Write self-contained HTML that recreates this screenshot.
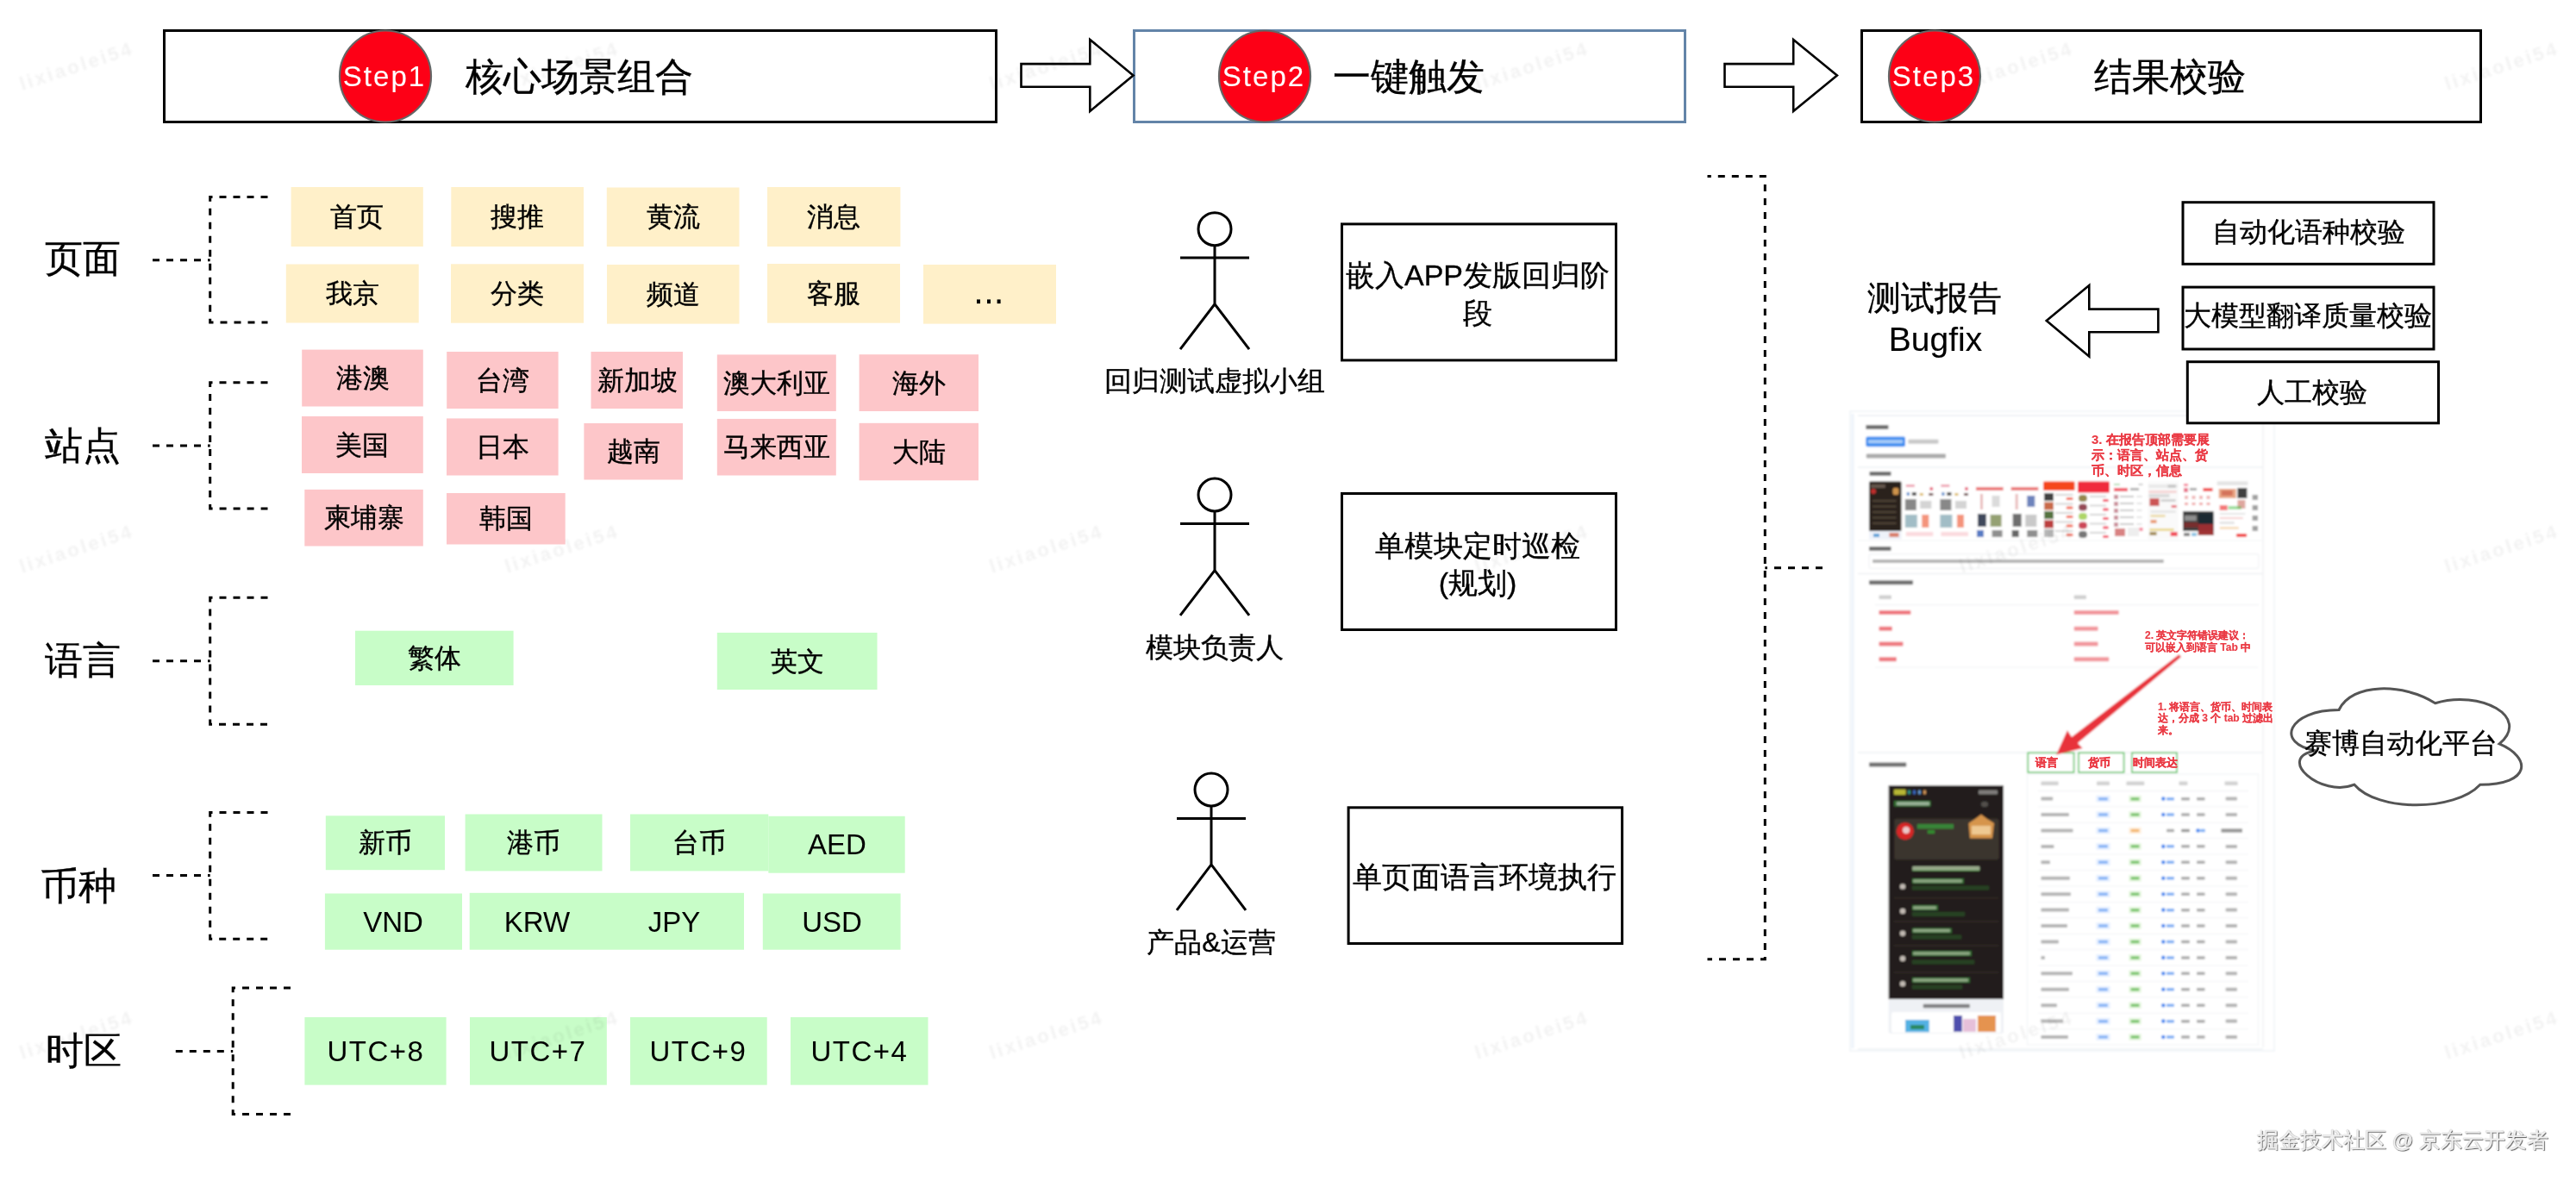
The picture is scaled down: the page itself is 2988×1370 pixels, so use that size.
<!DOCTYPE html>
<html><head><meta charset="utf-8"><style>
html,body{margin:0;padding:0;background:#fff;}
body{width:2988px;height:1370px;position:relative;overflow:hidden;font-family:"Liberation Sans",sans-serif;}
.t{position:absolute;white-space:nowrap;text-align:center;-webkit-text-stroke:0.35px currentColor;will-change:transform;}
svg{position:absolute;left:0;top:0;}
.wm{position:absolute;width:200px;height:36px;line-height:36px;text-align:center;font-size:22px;letter-spacing:3px;font-weight:bold;color:rgba(0,0,0,0.05);filter:blur(0.9px);transform:rotate(-18deg);white-space:nowrap;}
</style></head><body>
<svg width="2988" height="1370">
<rect x="190.5" y="35.5" width="965.0" height="106.0" fill="#fff" stroke="#000" stroke-width="3" />
<rect x="1315.5" y="35.5" width="639.0" height="106.0" fill="#fff" stroke="#6384a8" stroke-width="3" />
<rect x="2159.5" y="35.5" width="718.0" height="106.0" fill="#fff" stroke="#000" stroke-width="3" />
<polygon points="1184.5,74.1 1264.3,74.1 1264.3,45.9 1314.5,87.4 1264.3,129.0 1264.3,100.8 1184.5,100.8" fill="#fff" stroke="#000" stroke-width="2.6" stroke-linejoin="miter"/>
<polygon points="2000.5,74.1 2080.2,74.1 2080.2,45.9 2130.9,87.4 2080.2,129.0 2080.2,100.8 2000.5,100.8" fill="#fff" stroke="#000" stroke-width="2.6" stroke-linejoin="miter"/>
<circle cx="447" cy="88.5" r="53" fill="#fd0016" stroke="#666" stroke-width="2.2"/>
<circle cx="1467" cy="88.5" r="53" fill="#fd0016" stroke="#666" stroke-width="2.2"/>
<circle cx="2244" cy="88.5" r="53" fill="#fd0016" stroke="#666" stroke-width="2.2"/>
<path d="M177,301.7 L243.7,301.7" stroke="#000" stroke-width="3" stroke-dasharray="8 8" fill="none"/>
<path d="M310.5,228.6 L243.7,228.6 L243.7,374 L310.5,374" stroke="#000" stroke-width="3" stroke-dasharray="8 8" fill="none"/>
<path d="M177,517 L243.7,517" stroke="#000" stroke-width="3" stroke-dasharray="8 8" fill="none"/>
<path d="M310.5,443.7 L243.7,443.7 L243.7,590 L310.5,590" stroke="#000" stroke-width="3" stroke-dasharray="8 8" fill="none"/>
<path d="M177,766.8 L243.7,766.8" stroke="#000" stroke-width="3" stroke-dasharray="8 8" fill="none"/>
<path d="M310.5,693.3 L243.7,693.3 L243.7,840.2 L310.5,840.2" stroke="#000" stroke-width="3" stroke-dasharray="8 8" fill="none"/>
<path d="M177,1015.5 L243.7,1015.5" stroke="#000" stroke-width="3" stroke-dasharray="8 8" fill="none"/>
<path d="M310.5,942.6 L243.7,942.6 L243.7,1089.3 L310.5,1089.3" stroke="#000" stroke-width="3" stroke-dasharray="8 8" fill="none"/>
<path d="M203.8,1219.5 L270.2,1219.5" stroke="#000" stroke-width="3" stroke-dasharray="8 8" fill="none"/>
<path d="M337,1146 L270.2,1146 L270.2,1292.4 L337,1292.4" stroke="#000" stroke-width="3" stroke-dasharray="8 8" fill="none"/>
<rect x="337.6" y="217.0" width="153.2" height="69.0" fill="#fff0c9" stroke="none" stroke-width="0" />
<rect x="523.3" y="217.0" width="153.7" height="69.0" fill="#fff0c9" stroke="none" stroke-width="0" />
<rect x="703.8" y="217.5" width="153.7" height="68.5" fill="#fff0c9" stroke="none" stroke-width="0" />
<rect x="890.0" y="217.0" width="154.4" height="69.0" fill="#fff0c9" stroke="none" stroke-width="0" />
<rect x="331.8" y="306.5" width="153.9" height="68.0" fill="#fff0c9" stroke="none" stroke-width="0" />
<rect x="523.0" y="306.3" width="154.0" height="68.4" fill="#fff0c9" stroke="none" stroke-width="0" />
<rect x="704.0" y="307.0" width="153.5" height="68.6" fill="#fff0c9" stroke="none" stroke-width="0" />
<rect x="890.0" y="306.0" width="154.0" height="68.7" fill="#fff0c9" stroke="none" stroke-width="0" />
<rect x="1071.0" y="307.0" width="154.0" height="68.6" fill="#fff0c9" stroke="none" stroke-width="0" />
<rect x="1133" y="347.4" width="4" height="4.7" fill="#000"/>
<rect x="1145" y="347.4" width="4" height="4.7" fill="#000"/>
<rect x="1156.6" y="347.4" width="4" height="4.7" fill="#000"/>
<rect x="350.2" y="405.6" width="140.6" height="65.9" fill="#fdc6c9" stroke="none" stroke-width="0" />
<rect x="350.0" y="482.9" width="140.8" height="66.1" fill="#fdc6c9" stroke="none" stroke-width="0" />
<rect x="353.3" y="567.9" width="137.5" height="65.6" fill="#fdc6c9" stroke="none" stroke-width="0" />
<rect x="518.2" y="408.0" width="129.4" height="66.0" fill="#fdc6c9" stroke="none" stroke-width="0" />
<rect x="518.0" y="485.4" width="129.6" height="66.1" fill="#fdc6c9" stroke="none" stroke-width="0" />
<rect x="518.0" y="572.0" width="137.7" height="59.5" fill="#fdc6c9" stroke="none" stroke-width="0" />
<rect x="685.5" y="408.0" width="106.5" height="66.0" fill="#fdc6c9" stroke="none" stroke-width="0" />
<rect x="677.4" y="491.0" width="114.6" height="65.5" fill="#fdc6c9" stroke="none" stroke-width="0" />
<rect x="831.8" y="411.4" width="138.0" height="65.6" fill="#fdc6c9" stroke="none" stroke-width="0" />
<rect x="831.8" y="485.9" width="138.0" height="65.6" fill="#fdc6c9" stroke="none" stroke-width="0" />
<rect x="996.6" y="411.2" width="138.4" height="65.8" fill="#fdc6c9" stroke="none" stroke-width="0" />
<rect x="996.6" y="490.8" width="138.4" height="66.5" fill="#fdc6c9" stroke="none" stroke-width="0" />
<rect x="412.0" y="731.7" width="183.6" height="63.3" fill="#c8fdc8" stroke="none" stroke-width="0" />
<rect x="831.8" y="733.9" width="185.7" height="66.1" fill="#c8fdc8" stroke="none" stroke-width="0" />
<rect x="377.8" y="946.3" width="138.2" height="62.9" fill="#c8fdc8" stroke="none" stroke-width="0" />
<rect x="539.6" y="944.5" width="158.9" height="65.9" fill="#c8fdc8" stroke="none" stroke-width="0" />
<rect x="731.0" y="944.5" width="160.3" height="65.9" fill="#c8fdc8" stroke="none" stroke-width="0" />
<rect x="891.3" y="946.8" width="158.4" height="65.9" fill="#c8fdc8" stroke="none" stroke-width="0" />
<rect x="376.9" y="1036.5" width="159.1" height="65.2" fill="#c8fdc8" stroke="none" stroke-width="0" />
<rect x="544.7" y="1035.8" width="318.3" height="65.9" fill="#c8fdc8" stroke="none" stroke-width="0" />
<rect x="884.8" y="1036.5" width="159.8" height="65.2" fill="#c8fdc8" stroke="none" stroke-width="0" />
<rect x="353.4" y="1180.0" width="164.2" height="78.6" fill="#c8fdc8" stroke="none" stroke-width="0" />
<rect x="545.0" y="1180.0" width="158.8" height="78.6" fill="#c8fdc8" stroke="none" stroke-width="0" />
<rect x="731.0" y="1180.0" width="158.7" height="78.6" fill="#c8fdc8" stroke="none" stroke-width="0" />
<rect x="917.0" y="1180.0" width="159.5" height="78.6" fill="#c8fdc8" stroke="none" stroke-width="0" />
<circle cx="1409" cy="265.7" r="19" fill="#fff" stroke="#000" stroke-width="3"/>
<path d="M1409,284.7 L1409,352.8 M1369,299 L1449,299 M1369,405.2 L1409,352.8 L1449,405.2" stroke="#000" stroke-width="3" fill="none"/>
<circle cx="1409" cy="574.0" r="19" fill="#fff" stroke="#000" stroke-width="3"/>
<path d="M1409,593.0 L1409,661.6 M1369,607.5 L1449,607.5 M1369,713.8 L1409,661.6 L1449,713.8" stroke="#000" stroke-width="3" fill="none"/>
<circle cx="1405" cy="916.0" r="19" fill="#fff" stroke="#000" stroke-width="3"/>
<path d="M1405,935.0 L1405,1002.9 M1365,949.4 L1445,949.4 M1365,1055.8 L1405,1002.9 L1445,1055.8" stroke="#000" stroke-width="3" fill="none"/>
<rect x="1556.5" y="259.9" width="318.0" height="158.0" fill="#fff" stroke="#000" stroke-width="3" />
<rect x="1556.5" y="572.5" width="318.0" height="158.0" fill="#fff" stroke="#000" stroke-width="3" />
<rect x="1564.1" y="936.8" width="317.5" height="157.7" fill="#fff" stroke="#000" stroke-width="3" />
<path d="M1980.5,1112.8 L2047.3,1112.8 L2047.3,204.6 L1980.5,204.6" stroke="#000" stroke-width="3" stroke-dasharray="8 8" stroke-dashoffset="2.5" fill="none"/>
<path d="M2114,658.7 L2047.3,658.7" stroke="#000" stroke-width="3" stroke-dasharray="8 8" fill="none"/>
<defs><filter id="bl" x="-5%" y="-5%" width="110%" height="110%"><feGaussianBlur stdDeviation="0.9"/></filter></defs>
<g filter="url(#bl)">
<rect x="2146.0" y="477.0" width="492.0" height="742.0" fill="#ffffff" fill-opacity="1" rx="0" stroke="#f3f6f9" stroke-width="2"/>
<path d="M2149,480 L2149,1216" stroke="#edf3fa" stroke-width="3" fill="none"/>
<path d="M2155,482 L2625,482" stroke="#f0f2f5" stroke-width="2" fill="none"/>
<path d="M2155,542 L2625,542" stroke="#eef0f3" stroke-width="1.5" fill="none"/>
<path d="M2155,665.6 L2625,665.6" stroke="#eef0f3" stroke-width="1.5" fill="none"/>
<path d="M2155,873 L2625,873" stroke="#eef0f3" stroke-width="1.5" fill="none"/>
<path d="M2625,482 L2625,1215" stroke="#f0f2f5" stroke-width="1.5" fill="none"/>
<path d="M2155,1217 L2625,1217" stroke="#eef0f3" stroke-width="1.5" fill="none"/>
<rect x="2164.3" y="493.1" width="26.2" height="5.0" fill="#222" fill-opacity="0.65" rx="1" stroke="none" stroke-width="0"/>
<rect x="2164.3" y="506.4" width="45.7" height="11.9" fill="#3d8ef0" fill-opacity="1" rx="2" stroke="none" stroke-width="0"/>
<rect x="2167.0" y="510.3" width="40.0" height="4.0" fill="#ffffff" fill-opacity="0.55" rx="1" stroke="none" stroke-width="0"/>
<rect x="2213.4" y="509.8" width="35.1" height="5.0" fill="#888" fill-opacity="0.45" rx="1" stroke="none" stroke-width="0"/>
<rect x="2164.7" y="526.5" width="92.3" height="5.0" fill="#555" fill-opacity="0.5" rx="1" stroke="none" stroke-width="0"/>
<rect x="2168.5" y="546.9" width="25.0" height="5.0" fill="#222" fill-opacity="0.65" rx="1" stroke="none" stroke-width="0"/>
<rect x="2168.0" y="558.4" width="37.5" height="57.6" fill="#2a241f" fill-opacity="1" rx="1.5" stroke="none" stroke-width="0"/>
<rect x="2168.0" y="616.0" width="37.5" height="9.5" fill="#eef2fa" fill-opacity="1" rx="0" stroke="none" stroke-width="0"/>
<rect x="2170.0" y="562.0" width="16.8" height="4.0" fill="#8a7a6a" fill-opacity="0.6" rx="0" stroke="none" stroke-width="0"/>
<rect x="2170.0" y="567.0" width="6.0" height="6.0" fill="#d03030" fill-opacity="0.9" rx="3" stroke="none" stroke-width="0"/>
<rect x="2195.5" y="566.0" width="7.0" height="8.0" fill="#e0a050" fill-opacity="0.9" rx="2" stroke="none" stroke-width="0"/>
<rect x="2172.0" y="580.0" width="27.5" height="2.0" fill="#6a5a4a" fill-opacity="0.6" rx="0" stroke="none" stroke-width="0"/>
<rect x="2172.0" y="586.5" width="27.5" height="2.0" fill="#6a5a4a" fill-opacity="0.6" rx="0" stroke="none" stroke-width="0"/>
<rect x="2172.0" y="593.0" width="27.5" height="2.0" fill="#6a5a4a" fill-opacity="0.6" rx="0" stroke="none" stroke-width="0"/>
<rect x="2172.0" y="599.5" width="27.5" height="2.0" fill="#6a5a4a" fill-opacity="0.6" rx="0" stroke="none" stroke-width="0"/>
<rect x="2172.0" y="606.0" width="27.5" height="2.0" fill="#6a5a4a" fill-opacity="0.6" rx="0" stroke="none" stroke-width="0"/>
<rect x="2173.0" y="619.0" width="7.0" height="4.0" fill="#3a8ed0" fill-opacity="0.8" rx="0" stroke="none" stroke-width="0"/>
<rect x="2191.5" y="618.0" width="11.0" height="5.0" fill="#d05030" fill-opacity="0.7" rx="0" stroke="none" stroke-width="0"/>
<rect x="2208.8" y="558.4" width="35.5" height="67.1" fill="#ffffff" fill-opacity="1" rx="0" stroke="none" stroke-width="0"/>
<rect x="2210.8" y="562.0" width="10.0" height="3.0" fill="#e05070" fill-opacity="0.5" rx="0" stroke="none" stroke-width="0"/>
<rect x="2238.3" y="565.0" width="4.0" height="4.0" fill="#e03050" fill-opacity="0.8" rx="2" stroke="none" stroke-width="0"/>
<rect x="2211.8" y="571.0" width="3.0" height="4.0" fill="#3070c0" fill-opacity="0.8" rx="0" stroke="none" stroke-width="0"/>
<rect x="2217.8" y="571.0" width="5.0" height="4.0" fill="#222" fill-opacity="0.8" rx="0" stroke="none" stroke-width="0"/>
<rect x="2226.8" y="572.0" width="4.0" height="3.0" fill="#d0a020" fill-opacity="0.7" rx="0" stroke="none" stroke-width="0"/>
<rect x="2237.3" y="572.0" width="5.0" height="3.0" fill="#502020" fill-opacity="0.8" rx="0" stroke="none" stroke-width="0"/>
<rect x="2209.8" y="579.0" width="13.0" height="13.0" fill="#555" fill-opacity="0.7" rx="0" stroke="none" stroke-width="0"/>
<rect x="2227.3" y="581.0" width="13.0" height="9.0" fill="#aaa" fill-opacity="0.5" rx="0" stroke="none" stroke-width="0"/>
<rect x="2209.8" y="597.0" width="14.0" height="15.0" fill="#8aacb8" fill-opacity="0.8" rx="0" stroke="none" stroke-width="0"/>
<rect x="2229.3" y="597.0" width="8.0" height="15.0" fill="#f07050" fill-opacity="0.75" rx="0" stroke="none" stroke-width="0"/>
<rect x="2210.8" y="617.0" width="31.5" height="5.0" fill="#f07080" fill-opacity="0.25" rx="0" stroke="none" stroke-width="0"/>
<rect x="2249.4" y="558.4" width="35.6" height="67.1" fill="#ffffff" fill-opacity="1" rx="0" stroke="none" stroke-width="0"/>
<rect x="2251.4" y="562.0" width="10.0" height="3.0" fill="#e05070" fill-opacity="0.5" rx="0" stroke="none" stroke-width="0"/>
<rect x="2279.0" y="565.0" width="4.0" height="4.0" fill="#e03050" fill-opacity="0.8" rx="2" stroke="none" stroke-width="0"/>
<rect x="2252.4" y="571.0" width="3.0" height="4.0" fill="#3070c0" fill-opacity="0.8" rx="0" stroke="none" stroke-width="0"/>
<rect x="2258.4" y="571.0" width="5.0" height="4.0" fill="#222" fill-opacity="0.8" rx="0" stroke="none" stroke-width="0"/>
<rect x="2267.4" y="572.0" width="4.0" height="3.0" fill="#d0a020" fill-opacity="0.7" rx="0" stroke="none" stroke-width="0"/>
<rect x="2278.0" y="572.0" width="5.0" height="3.0" fill="#502020" fill-opacity="0.8" rx="0" stroke="none" stroke-width="0"/>
<rect x="2250.4" y="579.0" width="13.0" height="13.0" fill="#555" fill-opacity="0.7" rx="0" stroke="none" stroke-width="0"/>
<rect x="2268.0" y="581.0" width="13.0" height="9.0" fill="#aaa" fill-opacity="0.5" rx="0" stroke="none" stroke-width="0"/>
<rect x="2250.4" y="597.0" width="14.0" height="15.0" fill="#8aacb8" fill-opacity="0.8" rx="0" stroke="none" stroke-width="0"/>
<rect x="2270.0" y="597.0" width="8.0" height="15.0" fill="#f07050" fill-opacity="0.75" rx="0" stroke="none" stroke-width="0"/>
<rect x="2251.4" y="617.0" width="31.6" height="5.0" fill="#f07080" fill-opacity="0.25" rx="0" stroke="none" stroke-width="0"/>
<rect x="2290.0" y="558.4" width="35.6" height="67.1" fill="#ffffff" fill-opacity="1" rx="0" stroke="none" stroke-width="0"/>
<rect x="2292.0" y="565.0" width="31.6" height="4.0" fill="#e03030" fill-opacity="0.65" rx="0" stroke="none" stroke-width="0"/>
<rect x="2297.0" y="573.0" width="3.0" height="18.0" fill="#e0a0a0" fill-opacity="0.7" rx="0" stroke="none" stroke-width="0"/>
<rect x="2310.6" y="575.0" width="9.0" height="13.0" fill="#cccccc" fill-opacity="0.7" rx="0" stroke="none" stroke-width="0"/>
<rect x="2294.0" y="596.0" width="10.0" height="15.0" fill="#1e2a40" fill-opacity="0.85" rx="0" stroke="none" stroke-width="0"/>
<rect x="2308.6" y="597.0" width="13.0" height="14.0" fill="#7a8a50" fill-opacity="0.8" rx="0" stroke="none" stroke-width="0"/>
<rect x="2293.0" y="615.0" width="8.0" height="8.0" fill="#2050b0" fill-opacity="0.75" rx="0" stroke="none" stroke-width="0"/>
<rect x="2310.6" y="615.0" width="12.0" height="8.0" fill="#444" fill-opacity="0.6" rx="0" stroke="none" stroke-width="0"/>
<rect x="2330.7" y="558.4" width="35.6" height="67.1" fill="#ffffff" fill-opacity="1" rx="0" stroke="none" stroke-width="0"/>
<rect x="2332.7" y="565.0" width="31.6" height="4.0" fill="#e03030" fill-opacity="0.65" rx="0" stroke="none" stroke-width="0"/>
<rect x="2337.7" y="573.0" width="3.0" height="18.0" fill="#e0a0a0" fill-opacity="0.7" rx="0" stroke="none" stroke-width="0"/>
<rect x="2351.3" y="575.0" width="9.0" height="13.0" fill="#3050a0" fill-opacity="0.7" rx="0" stroke="none" stroke-width="0"/>
<rect x="2334.7" y="596.0" width="10.0" height="15.0" fill="#555" fill-opacity="0.85" rx="0" stroke="none" stroke-width="0"/>
<rect x="2349.3" y="597.0" width="13.0" height="14.0" fill="#bbb" fill-opacity="0.8" rx="0" stroke="none" stroke-width="0"/>
<rect x="2333.7" y="615.0" width="8.0" height="8.0" fill="#333" fill-opacity="0.75" rx="0" stroke="none" stroke-width="0"/>
<rect x="2351.3" y="615.0" width="12.0" height="8.0" fill="#444" fill-opacity="0.6" rx="0" stroke="none" stroke-width="0"/>
<rect x="2370.0" y="558.4" width="36.6" height="67.1" fill="#ffffff" fill-opacity="1" rx="0" stroke="none" stroke-width="0"/>
<rect x="2370.0" y="558.4" width="36.6" height="10.5" fill="#f5461c" fill-opacity="1" rx="1.5" stroke="none" stroke-width="0"/>
<rect x="2371.0" y="572.0" width="11.0" height="9.0" fill="#222" fill-opacity="0.85" rx="0" stroke="none" stroke-width="0"/>
<rect x="2384.0" y="573.0" width="20.6" height="2.0" fill="#999" fill-opacity="0.4" rx="0" stroke="none" stroke-width="0"/>
<rect x="2396.6" y="577.0" width="8.0" height="3.0" fill="#f04020" fill-opacity="0.8" rx="1.5" stroke="none" stroke-width="0"/>
<rect x="2371.0" y="582.5" width="11.0" height="9.0" fill="#c05028" fill-opacity="0.85" rx="0" stroke="none" stroke-width="0"/>
<rect x="2384.0" y="583.5" width="20.6" height="2.0" fill="#999" fill-opacity="0.4" rx="0" stroke="none" stroke-width="0"/>
<rect x="2396.6" y="587.5" width="8.0" height="3.0" fill="#f04020" fill-opacity="0.8" rx="1.5" stroke="none" stroke-width="0"/>
<rect x="2371.0" y="593.0" width="11.0" height="9.0" fill="#3a5a20" fill-opacity="0.85" rx="0" stroke="none" stroke-width="0"/>
<rect x="2384.0" y="594.0" width="20.6" height="2.0" fill="#999" fill-opacity="0.4" rx="0" stroke="none" stroke-width="0"/>
<rect x="2396.6" y="598.0" width="8.0" height="3.0" fill="#f04020" fill-opacity="0.8" rx="1.5" stroke="none" stroke-width="0"/>
<rect x="2371.0" y="603.5" width="11.0" height="9.0" fill="#b02020" fill-opacity="0.85" rx="0" stroke="none" stroke-width="0"/>
<rect x="2384.0" y="604.5" width="20.6" height="2.0" fill="#999" fill-opacity="0.4" rx="0" stroke="none" stroke-width="0"/>
<rect x="2396.6" y="608.5" width="8.0" height="3.0" fill="#f04020" fill-opacity="0.8" rx="1.5" stroke="none" stroke-width="0"/>
<rect x="2371.0" y="614.0" width="11.0" height="9.0" fill="#aaa" fill-opacity="0.85" rx="0" stroke="none" stroke-width="0"/>
<rect x="2384.0" y="615.0" width="20.6" height="2.0" fill="#999" fill-opacity="0.4" rx="0" stroke="none" stroke-width="0"/>
<rect x="2396.6" y="619.0" width="8.0" height="3.0" fill="#f04020" fill-opacity="0.8" rx="1.5" stroke="none" stroke-width="0"/>
<rect x="2410.0" y="558.4" width="37.0" height="67.1" fill="#ffffff" fill-opacity="1" rx="0" stroke="none" stroke-width="0"/>
<rect x="2410.0" y="558.4" width="37.0" height="13.1" fill="#f02a3c" fill-opacity="1" rx="1.5" stroke="none" stroke-width="0"/>
<rect x="2411.0" y="574.0" width="10.0" height="8.0" fill="#7a6a20" fill-opacity="0.8" rx="4" stroke="none" stroke-width="0"/>
<rect x="2424.0" y="575.0" width="19.0" height="2.0" fill="#999" fill-opacity="0.4" rx="0" stroke="none" stroke-width="0"/>
<rect x="2439.0" y="579.0" width="7.0" height="3.0" fill="#f02040" fill-opacity="0.8" rx="1.5" stroke="none" stroke-width="0"/>
<rect x="2411.0" y="584.5" width="10.0" height="8.0" fill="#7a1a2a" fill-opacity="0.8" rx="4" stroke="none" stroke-width="0"/>
<rect x="2424.0" y="585.5" width="19.0" height="2.0" fill="#999" fill-opacity="0.4" rx="0" stroke="none" stroke-width="0"/>
<rect x="2439.0" y="589.5" width="7.0" height="3.0" fill="#f02040" fill-opacity="0.8" rx="1.5" stroke="none" stroke-width="0"/>
<rect x="2411.0" y="595.0" width="10.0" height="8.0" fill="#9acc40" fill-opacity="0.8" rx="4" stroke="none" stroke-width="0"/>
<rect x="2424.0" y="596.0" width="19.0" height="2.0" fill="#999" fill-opacity="0.4" rx="0" stroke="none" stroke-width="0"/>
<rect x="2439.0" y="600.0" width="7.0" height="3.0" fill="#f02040" fill-opacity="0.8" rx="1.5" stroke="none" stroke-width="0"/>
<rect x="2411.0" y="605.5" width="10.0" height="8.0" fill="#c01830" fill-opacity="0.8" rx="4" stroke="none" stroke-width="0"/>
<rect x="2424.0" y="606.5" width="19.0" height="2.0" fill="#999" fill-opacity="0.4" rx="0" stroke="none" stroke-width="0"/>
<rect x="2439.0" y="610.5" width="7.0" height="3.0" fill="#f02040" fill-opacity="0.8" rx="1.5" stroke="none" stroke-width="0"/>
<rect x="2411.0" y="616.0" width="10.0" height="8.0" fill="#555" fill-opacity="0.8" rx="4" stroke="none" stroke-width="0"/>
<rect x="2424.0" y="617.0" width="19.0" height="2.0" fill="#999" fill-opacity="0.4" rx="0" stroke="none" stroke-width="0"/>
<rect x="2439.0" y="621.0" width="7.0" height="3.0" fill="#f02040" fill-opacity="0.8" rx="1.5" stroke="none" stroke-width="0"/>
<rect x="2451.0" y="558.4" width="35.5" height="67.1" fill="#ffffff" fill-opacity="1" rx="0" stroke="none" stroke-width="0"/>
<rect x="2452.0" y="561.0" width="7.0" height="2.0" fill="#4a4" fill-opacity="0.4" rx="0" stroke="none" stroke-width="0"/>
<rect x="2480.5" y="561.0" width="5.0" height="2.0" fill="#888" fill-opacity="0.4" rx="0" stroke="none" stroke-width="0"/>
<rect x="2452.0" y="566.0" width="16.0" height="4.0" fill="#f04050" fill-opacity="0.85" rx="0" stroke="none" stroke-width="0"/>
<rect x="2471.0" y="566.0" width="10.0" height="3.0" fill="#444" fill-opacity="0.4" rx="0" stroke="none" stroke-width="0"/>
<rect x="2452.0" y="574.0" width="5.0" height="5.0" fill="#b05868" fill-opacity="0.65" rx="0" stroke="none" stroke-width="0"/>
<rect x="2459.0" y="575.0" width="16.0" height="2.0" fill="#777" fill-opacity="0.4" rx="0" stroke="none" stroke-width="0"/>
<rect x="2478.5" y="575.0" width="6.0" height="2.0" fill="#bbb" fill-opacity="0.4" rx="0" stroke="none" stroke-width="0"/>
<rect x="2452.0" y="582.0" width="5.0" height="5.0" fill="#b05868" fill-opacity="0.65" rx="0" stroke="none" stroke-width="0"/>
<rect x="2459.0" y="583.0" width="16.0" height="2.0" fill="#777" fill-opacity="0.4" rx="0" stroke="none" stroke-width="0"/>
<rect x="2478.5" y="583.0" width="6.0" height="2.0" fill="#bbb" fill-opacity="0.4" rx="0" stroke="none" stroke-width="0"/>
<rect x="2452.0" y="590.0" width="5.0" height="5.0" fill="#b05868" fill-opacity="0.65" rx="0" stroke="none" stroke-width="0"/>
<rect x="2459.0" y="591.0" width="16.0" height="2.0" fill="#777" fill-opacity="0.4" rx="0" stroke="none" stroke-width="0"/>
<rect x="2478.5" y="591.0" width="6.0" height="2.0" fill="#bbb" fill-opacity="0.4" rx="0" stroke="none" stroke-width="0"/>
<rect x="2452.0" y="598.0" width="5.0" height="5.0" fill="#b05868" fill-opacity="0.65" rx="0" stroke="none" stroke-width="0"/>
<rect x="2459.0" y="599.0" width="16.0" height="2.0" fill="#777" fill-opacity="0.4" rx="0" stroke="none" stroke-width="0"/>
<rect x="2478.5" y="599.0" width="6.0" height="2.0" fill="#bbb" fill-opacity="0.4" rx="0" stroke="none" stroke-width="0"/>
<rect x="2452.0" y="606.0" width="5.0" height="5.0" fill="#b05868" fill-opacity="0.65" rx="0" stroke="none" stroke-width="0"/>
<rect x="2459.0" y="607.0" width="16.0" height="2.0" fill="#777" fill-opacity="0.4" rx="0" stroke="none" stroke-width="0"/>
<rect x="2478.5" y="607.0" width="6.0" height="2.0" fill="#bbb" fill-opacity="0.4" rx="0" stroke="none" stroke-width="0"/>
<rect x="2453.0" y="613.0" width="12.0" height="9.0" fill="#c03030" fill-opacity="0.6" rx="0" stroke="none" stroke-width="0"/>
<rect x="2468.0" y="612.0" width="13.0" height="10.0" fill="#ddd" fill-opacity="0.5" rx="0" stroke="none" stroke-width="0"/>
<rect x="2481.5" y="612.0" width="4.0" height="4.0" fill="#f04060" fill-opacity="0.6" rx="0" stroke="none" stroke-width="0"/>
<rect x="2491.5" y="558.4" width="35.2" height="67.1" fill="#fafafa" fill-opacity="1" rx="0" stroke="none" stroke-width="0"/>
<rect x="2492.5" y="562.0" width="33.2" height="4.0" fill="#ddd" fill-opacity="0.6" rx="0" stroke="none" stroke-width="0"/>
<rect x="2514.7" y="562.0" width="9.0" height="4.0" fill="#aaa" fill-opacity="0.5" rx="0" stroke="none" stroke-width="0"/>
<rect x="2492.5" y="569.0" width="32.2" height="3.0" fill="#f2b0b0" fill-opacity="0.5" rx="0" stroke="none" stroke-width="0"/>
<rect x="2492.5" y="573.0" width="24.0" height="4.0" fill="#bbb" fill-opacity="0.5" rx="0" stroke="none" stroke-width="0"/>
<rect x="2493.5" y="578.0" width="11.0" height="9.0" fill="#c02a2a" fill-opacity="0.8" rx="0" stroke="none" stroke-width="0"/>
<rect x="2506.5" y="579.0" width="17.2" height="3.0" fill="#aaa" fill-opacity="0.5" rx="0" stroke="none" stroke-width="0"/>
<rect x="2518.7" y="586.0" width="6.0" height="3.0" fill="#e03040" fill-opacity="0.7" rx="0" stroke="none" stroke-width="0"/>
<rect x="2494.5" y="592.0" width="29.2" height="3.0" fill="#ccc" fill-opacity="0.4" rx="0" stroke="none" stroke-width="0"/>
<rect x="2494.5" y="597.0" width="17.0" height="3.0" fill="#e0c060" fill-opacity="0.5" rx="0" stroke="none" stroke-width="0"/>
<rect x="2494.5" y="603.0" width="7.0" height="4.0" fill="#e06020" fill-opacity="0.6" rx="0" stroke="none" stroke-width="0"/>
<rect x="2493.5" y="613.0" width="28.0" height="3.0" fill="#e0c040" fill-opacity="0.55" rx="0" stroke="none" stroke-width="0"/>
<rect x="2493.5" y="617.0" width="8.0" height="4.0" fill="#806010" fill-opacity="0.7" rx="0" stroke="none" stroke-width="0"/>
<rect x="2517.7" y="617.0" width="8.0" height="5.0" fill="#f03040" fill-opacity="0.85" rx="0" stroke="none" stroke-width="0"/>
<rect x="2532.0" y="558.4" width="35.5" height="67.1" fill="#ffffff" fill-opacity="1" rx="0" stroke="none" stroke-width="0"/>
<rect x="2533.0" y="561.0" width="5.0" height="3.0" fill="#f04060" fill-opacity="0.6" rx="0" stroke="none" stroke-width="0"/>
<rect x="2555.5" y="566.0" width="11.0" height="4.0" fill="#f03030" fill-opacity="0.85" rx="0" stroke="none" stroke-width="0"/>
<rect x="2533.0" y="566.0" width="5.0" height="5.0" fill="#e04060" fill-opacity="0.7" rx="0" stroke="none" stroke-width="0"/>
<rect x="2540.0" y="566.0" width="8.0" height="3.0" fill="#555" fill-opacity="0.5" rx="0" stroke="none" stroke-width="0"/>
<rect x="2534.0" y="575.0" width="4.0" height="4.0" fill="#e07070" fill-opacity="0.5" rx="0" stroke="none" stroke-width="0"/>
<rect x="2534.0" y="583.0" width="4.0" height="3.0" fill="#e04040" fill-opacity="0.45" rx="0" stroke="none" stroke-width="0"/>
<rect x="2542.5" y="575.0" width="4.0" height="4.0" fill="#e07070" fill-opacity="0.5" rx="0" stroke="none" stroke-width="0"/>
<rect x="2542.5" y="583.0" width="4.0" height="3.0" fill="#e04040" fill-opacity="0.45" rx="0" stroke="none" stroke-width="0"/>
<rect x="2551.0" y="575.0" width="4.0" height="4.0" fill="#e07070" fill-opacity="0.5" rx="0" stroke="none" stroke-width="0"/>
<rect x="2551.0" y="583.0" width="4.0" height="3.0" fill="#e04040" fill-opacity="0.45" rx="0" stroke="none" stroke-width="0"/>
<rect x="2559.5" y="575.0" width="4.0" height="4.0" fill="#e07070" fill-opacity="0.5" rx="0" stroke="none" stroke-width="0"/>
<rect x="2559.5" y="583.0" width="4.0" height="3.0" fill="#e04040" fill-opacity="0.45" rx="0" stroke="none" stroke-width="0"/>
<rect x="2532.0" y="593.0" width="35.5" height="23.0" fill="#2a2a2a" fill-opacity="0.9" rx="0" stroke="none" stroke-width="0"/>
<rect x="2549.8" y="595.0" width="17.8" height="26.0" fill="#1a2830" fill-opacity="0.9" rx="0" stroke="none" stroke-width="0"/>
<rect x="2534.0" y="598.0" width="13.8" height="6.0" fill="#ddd" fill-opacity="0.5" rx="0" stroke="none" stroke-width="0"/>
<rect x="2549.8" y="608.0" width="17.8" height="13.0" fill="#d03030" fill-opacity="0.7" rx="0" stroke="none" stroke-width="0"/>
<rect x="2533.0" y="606.0" width="16.8" height="6.0" fill="#b02020" fill-opacity="0.5" rx="0" stroke="none" stroke-width="0"/>
<rect x="2533.0" y="618.0" width="7.0" height="4.0" fill="#333" fill-opacity="0.6" rx="0" stroke="none" stroke-width="0"/>
<rect x="2542.0" y="618.0" width="6.0" height="4.0" fill="#40a0d0" fill-opacity="0.6" rx="0" stroke="none" stroke-width="0"/>
<rect x="2571.7" y="558.4" width="35.7" height="67.1" fill="#ffffff" fill-opacity="1" rx="0" stroke="none" stroke-width="0"/>
<rect x="2571.7" y="558.4" width="35.7" height="4.6" fill="#ddd" fill-opacity="0.8" rx="0" stroke="none" stroke-width="0"/>
<rect x="2595.4" y="566.0" width="11.0" height="12.0" fill="#2a2a2a" fill-opacity="0.9" rx="0" stroke="none" stroke-width="0"/>
<rect x="2573.7" y="567.0" width="20.0" height="11.0" fill="#e08050" fill-opacity="0.7" rx="0" stroke="none" stroke-width="0"/>
<rect x="2576.7" y="569.0" width="13.0" height="6.0" fill="#c04030" fill-opacity="0.5" rx="0" stroke="none" stroke-width="0"/>
<rect x="2595.4" y="580.0" width="9.0" height="10.0" fill="#c05040" fill-opacity="0.5" rx="0" stroke="none" stroke-width="0"/>
<rect x="2574.7" y="586.0" width="9.0" height="6.0" fill="#f04040" fill-opacity="0.7" rx="0" stroke="none" stroke-width="0"/>
<rect x="2584.7" y="587.0" width="15.0" height="4.0" fill="#40c040" fill-opacity="0.5" rx="0" stroke="none" stroke-width="0"/>
<rect x="2574.7" y="595.0" width="29.7" height="2.0" fill="#ccc" fill-opacity="0.5" rx="0" stroke="none" stroke-width="0"/>
<rect x="2574.7" y="600.0" width="27.0" height="2.0" fill="#f0a0a0" fill-opacity="0.5" rx="0" stroke="none" stroke-width="0"/>
<rect x="2574.7" y="605.0" width="17.0" height="3.0" fill="#bbb" fill-opacity="0.4" rx="0" stroke="none" stroke-width="0"/>
<rect x="2574.7" y="611.0" width="22.0" height="3.0" fill="#f0c080" fill-opacity="0.5" rx="0" stroke="none" stroke-width="0"/>
<rect x="2593.7" y="619.0" width="12.7" height="4.0" fill="#f02020" fill-opacity="0.85" rx="2" stroke="none" stroke-width="0"/>
<rect x="2611.6" y="558.4" width="8.4" height="67.1" fill="#ffffff" fill-opacity="1" rx="0" stroke="none" stroke-width="0"/>
<rect x="2612.6" y="574.0" width="6.4" height="6.0" fill="#444" fill-opacity="0.5" rx="0" stroke="none" stroke-width="0"/>
<rect x="2612.6" y="586.0" width="6.4" height="6.0" fill="#444" fill-opacity="0.5" rx="0" stroke="none" stroke-width="0"/>
<rect x="2612.6" y="598.0" width="6.4" height="6.0" fill="#444" fill-opacity="0.5" rx="0" stroke="none" stroke-width="0"/>
<rect x="2612.6" y="610.0" width="6.4" height="6.0" fill="#444" fill-opacity="0.5" rx="0" stroke="none" stroke-width="0"/>
<path d="M2155,627 L2625,627" stroke="#f2f4f6" stroke-width="1" fill="none"/>
<rect x="2168.0" y="633.9" width="25.5" height="5.0" fill="#222" fill-opacity="0.65" rx="1" stroke="none" stroke-width="0"/>
<rect x="2168.0" y="642.8" width="452.0" height="16.5" fill="#ffffff" fill-opacity="1" rx="2" stroke="#eceef2" stroke-width="1"/>
<rect x="2172.0" y="649.0" width="337.8" height="4.0" fill="#444" fill-opacity="0.4" rx="1" stroke="none" stroke-width="0"/>
<rect x="2168.0" y="673.3" width="51.0" height="5.0" fill="#222" fill-opacity="0.65" rx="1" stroke="none" stroke-width="0"/>
<rect x="2179.5" y="690.5" width="14.5" height="4.5" fill="#888" fill-opacity="0.4" rx="1" stroke="none" stroke-width="0"/>
<rect x="2405.7" y="690.5" width="14.3" height="4.5" fill="#888" fill-opacity="0.4" rx="1" stroke="none" stroke-width="0"/>
<path d="M2175,701.7 L2620,701.7" stroke="#eef0f3" stroke-width="1" fill="none"/>
<rect x="2179.5" y="708.1" width="36.9" height="5.0" fill="#e8404a" fill-opacity="0.7" rx="1" stroke="none" stroke-width="0"/>
<rect x="2405.7" y="708.1" width="52.0" height="5.0" fill="#e8404a" fill-opacity="0.55" rx="1" stroke="none" stroke-width="0"/>
<rect x="2179.5" y="726.7" width="15.3" height="5.0" fill="#e8404a" fill-opacity="0.7" rx="1" stroke="none" stroke-width="0"/>
<rect x="2405.7" y="726.7" width="27.9" height="5.0" fill="#e8404a" fill-opacity="0.55" rx="1" stroke="none" stroke-width="0"/>
<rect x="2179.5" y="744.5" width="28.0" height="5.0" fill="#e8404a" fill-opacity="0.7" rx="1" stroke="none" stroke-width="0"/>
<rect x="2405.7" y="744.5" width="27.9" height="5.0" fill="#e8404a" fill-opacity="0.55" rx="1" stroke="none" stroke-width="0"/>
<rect x="2179.5" y="762.2" width="20.4" height="5.0" fill="#e8404a" fill-opacity="0.7" rx="1" stroke="none" stroke-width="0"/>
<rect x="2405.7" y="762.2" width="40.6" height="5.0" fill="#e8404a" fill-opacity="0.55" rx="1" stroke="none" stroke-width="0"/>
<path d="M2175,774 L2619,774" stroke="#f0f2f4" stroke-width="1" fill="none"/>
<rect x="2168.0" y="884.5" width="43.3" height="5.0" fill="#222" fill-opacity="0.65" rx="1" stroke="none" stroke-width="0"/>
<rect x="2352.3" y="873.3" width="53.3" height="22.7" fill="#ffffff" fill-opacity="0" rx="0" stroke="#55c25c" stroke-width="1.6"/>
<rect x="2411.1" y="873.3" width="52.5" height="22.7" fill="#ffffff" fill-opacity="0" rx="0" stroke="#55c25c" stroke-width="1.6"/>
<rect x="2472.8" y="873.3" width="52.3" height="22.7" fill="#ffffff" fill-opacity="0" rx="0" stroke="#55c25c" stroke-width="1.6"/>
<polygon points="2527.5,759.3 2530.0,762.0 2410.0,862.0 2415.6,867.9 2385.2,875.5 2398.0,847.3 2403.0,855.0" fill="#e8313a"/>
<rect x="2190.7" y="911.2" width="133.3" height="247.9" fill="#231e1a" fill-opacity="1" rx="0" stroke="none" stroke-width="0"/>
<rect x="2196.8" y="915.8" width="13.9" height="6.1" fill="#c8c838" fill-opacity="0.9" rx="1" stroke="none" stroke-width="0"/>
<rect x="2213.0" y="916.5" width="3.0" height="5.0" fill="#30a090" fill-opacity="0.9" rx="1" stroke="none" stroke-width="0"/>
<rect x="2219.0" y="916.5" width="3.0" height="5.0" fill="#3a70d0" fill-opacity="0.9" rx="1" stroke="none" stroke-width="0"/>
<rect x="2225.0" y="916.5" width="3.0" height="5.0" fill="#6aa0e0" fill-opacity="0.9" rx="1" stroke="none" stroke-width="0"/>
<rect x="2231.0" y="916.5" width="3.0" height="5.0" fill="#e0a060" fill-opacity="0.9" rx="1" stroke="none" stroke-width="0"/>
<rect x="2295.0" y="916.5" width="22.0" height="5.0" fill="#cccccc" fill-opacity="0.55" rx="1" stroke="none" stroke-width="0"/>
<rect x="2197.0" y="929.0" width="42.5" height="6.5" fill="#3a8a3a" fill-opacity="0.75" rx="0" stroke="none" stroke-width="0"/>
<rect x="2200.0" y="930.2" width="38.0" height="4.0" fill="#ddd" fill-opacity="0.6" rx="1" stroke="none" stroke-width="0"/>
<rect x="2298.0" y="930.0" width="8.0" height="6.0" fill="#999" fill-opacity="0.4" rx="3" stroke="none" stroke-width="0"/>
<rect x="2197.2" y="949.8" width="121.5" height="47.5" fill="#3b342e" fill-opacity="1" rx="3" stroke="none" stroke-width="0"/>
<circle cx="2209.8" cy="964.2" r="10" fill="#d82828"/>
<circle cx="2211" cy="963" r="4" fill="#f0f0f0" fill-opacity="0.8"/>
<rect x="2224.0" y="956.0" width="42.0" height="5.5" fill="#3a9a3a" fill-opacity="0.8" rx="0" stroke="none" stroke-width="0"/>
<rect x="2236.0" y="963.0" width="8.0" height="4.0" fill="#30a030" fill-opacity="0.8" rx="0" stroke="none" stroke-width="0"/>
<polygon points="2283.5,955 2291,950 2298,944.7 2305,950 2313,955 2311,972.6 2285,972.6" fill="#e8a050" fill-opacity="0.9"/>
<rect x="2287.0" y="958.0" width="22.0" height="10.0" fill="#f8e0b0" fill-opacity="0.7" rx="0" stroke="none" stroke-width="0"/>
<rect x="2218.2" y="1005.0" width="78.2" height="5.0" fill="#bfd8b0" fill-opacity="0.75" rx="1" stroke="none" stroke-width="0"/>
<rect x="2218.2" y="1009.5" width="78.2" height="1.0" fill="#3aa03a" fill-opacity="0.7" rx="0" stroke="none" stroke-width="0"/>
<circle cx="2207" cy="1028.4" r="3.2" fill="#e8e0d8" fill-opacity="0.8"/>
<rect x="2218.0" y="1019.0" width="60.0" height="6.0" fill="#2f7a2f" fill-opacity="0.75" rx="0" stroke="none" stroke-width="0"/>
<rect x="2219.0" y="1020.2" width="57.0" height="3.5" fill="#e0e0d0" fill-opacity="0.55" rx="1" stroke="none" stroke-width="0"/>
<rect x="2218.0" y="1027.5" width="89.0" height="5.0" fill="#2a5a2a" fill-opacity="0.6" rx="0" stroke="none" stroke-width="0"/>
<circle cx="2207" cy="1056.9" r="3.2" fill="#e8e0d8" fill-opacity="0.8"/>
<rect x="2218.0" y="1050.0" width="30.0" height="6.0" fill="#2f7a2f" fill-opacity="0.75" rx="0" stroke="none" stroke-width="0"/>
<rect x="2219.0" y="1051.2" width="27.0" height="3.5" fill="#e0e0d0" fill-opacity="0.55" rx="1" stroke="none" stroke-width="0"/>
<rect x="2218.0" y="1057.9" width="61.0" height="5.0" fill="#2a5a2a" fill-opacity="0.6" rx="0" stroke="none" stroke-width="0"/>
<circle cx="2207" cy="1082.7" r="3.2" fill="#e8e0d8" fill-opacity="0.8"/>
<rect x="2218.0" y="1076.6" width="46.0" height="6.0" fill="#2f7a2f" fill-opacity="0.75" rx="0" stroke="none" stroke-width="0"/>
<rect x="2219.0" y="1077.8" width="43.0" height="3.5" fill="#e0e0d0" fill-opacity="0.55" rx="1" stroke="none" stroke-width="0"/>
<rect x="2218.0" y="1084.5" width="57.0" height="5.0" fill="#2a5a2a" fill-opacity="0.6" rx="0" stroke="none" stroke-width="0"/>
<circle cx="2207" cy="1112" r="3.2" fill="#e8e0d8" fill-opacity="0.8"/>
<rect x="2218.0" y="1103.0" width="69.0" height="6.0" fill="#2f7a2f" fill-opacity="0.75" rx="0" stroke="none" stroke-width="0"/>
<rect x="2219.0" y="1104.2" width="66.0" height="3.5" fill="#e0e0d0" fill-opacity="0.55" rx="1" stroke="none" stroke-width="0"/>
<rect x="2218.0" y="1113.5" width="72.0" height="5.0" fill="#2a5a2a" fill-opacity="0.6" rx="0" stroke="none" stroke-width="0"/>
<circle cx="2207" cy="1141.3" r="3.2" fill="#e8e0d8" fill-opacity="0.8"/>
<rect x="2218.0" y="1134.0" width="67.0" height="6.0" fill="#2f7a2f" fill-opacity="0.75" rx="0" stroke="none" stroke-width="0"/>
<rect x="2219.0" y="1135.2" width="64.0" height="3.5" fill="#e0e0d0" fill-opacity="0.55" rx="1" stroke="none" stroke-width="0"/>
<rect x="2218.0" y="1142.5" width="58.0" height="5.0" fill="#2a5a2a" fill-opacity="0.6" rx="0" stroke="none" stroke-width="0"/>
<path d="M2197,1041.8 L2318,1041.8" stroke="#3a332d" stroke-width="1" fill="none"/>
<path d="M2197,1069 L2318,1069" stroke="#3a332d" stroke-width="1" fill="none"/>
<path d="M2197,1097 L2318,1097" stroke="#3a332d" stroke-width="1" fill="none"/>
<path d="M2197,1128 L2318,1128" stroke="#3a332d" stroke-width="1" fill="none"/>
<rect x="2190.7" y="1159.1" width="133.3" height="39.9" fill="#eff1f5" fill-opacity="1" rx="3" stroke="none" stroke-width="0"/>
<rect x="2230.7" y="1164.8" width="54.2" height="4.5" fill="#333" fill-opacity="0.6" rx="1" stroke="none" stroke-width="0"/>
<rect x="2194.0" y="1174.0" width="127.0" height="24.0" fill="#ffffff" fill-opacity="1" rx="2" stroke="none" stroke-width="0"/>
<rect x="2210.0" y="1183.0" width="27.8" height="14.3" fill="#40a8e0" fill-opacity="0.9" rx="0" stroke="none" stroke-width="0"/>
<rect x="2216.0" y="1189.0" width="16.0" height="5.0" fill="#208040" fill-opacity="0.8" rx="0" stroke="none" stroke-width="0"/>
<rect x="2266.0" y="1178.0" width="10.0" height="19.0" fill="#3030a0" fill-opacity="0.85" rx="0" stroke="none" stroke-width="0"/>
<rect x="2277.0" y="1182.0" width="15.0" height="15.0" fill="#e0b0d0" fill-opacity="0.8" rx="0" stroke="none" stroke-width="0"/>
<rect x="2294.0" y="1178.0" width="21.0" height="19.0" fill="#e08030" fill-opacity="0.85" rx="0" stroke="none" stroke-width="0"/>
<rect x="2351.6" y="898.0" width="267.9" height="314.0" fill="#ffffff" fill-opacity="0" rx="0" stroke="#f0f2f5" stroke-width="1"/>
<rect x="2367.4" y="906.5" width="20.3" height="4.5" fill="#999" fill-opacity="0.45" rx="1" stroke="none" stroke-width="0"/>
<rect x="2432.0" y="906.5" width="15.0" height="4.5" fill="#999" fill-opacity="0.45" rx="1" stroke="none" stroke-width="0"/>
<rect x="2466.4" y="906.5" width="20.9" height="4.5" fill="#999" fill-opacity="0.45" rx="1" stroke="none" stroke-width="0"/>
<rect x="2527.5" y="906.5" width="9.9" height="4.5" fill="#999" fill-opacity="0.45" rx="1" stroke="none" stroke-width="0"/>
<rect x="2580.5" y="906.5" width="15.1" height="4.5" fill="#999" fill-opacity="0.45" rx="1" stroke="none" stroke-width="0"/>
<path d="M2364,917.7 L2608,917.7" stroke="#eef0f3" stroke-width="1" fill="none"/>
<rect x="2367.4" y="924.6" width="13.9" height="4.0" fill="#444" fill-opacity="0.4" rx="1" stroke="none" stroke-width="0"/>
<rect x="2431.4" y="922.8" width="16.3" height="7.6" fill="#e6f0ff" fill-opacity="1" rx="0" stroke="none" stroke-width="0"/>
<rect x="2434.0" y="924.9" width="11.0" height="3.5" fill="#4a8ef0" fill-opacity="0.6" rx="1" stroke="none" stroke-width="0"/>
<rect x="2469.3" y="922.8" width="14.5" height="7.6" fill="#e6f7df" fill-opacity="1" rx="0" stroke="none" stroke-width="0"/>
<rect x="2471.5" y="924.9" width="10.0" height="3.5" fill="#50b040" fill-opacity="0.7" rx="1" stroke="none" stroke-width="0"/>
<circle cx="2509.3" cy="926.6" r="2.3" fill="#3a86f0"/>
<rect x="2513.0" y="924.9" width="9.0" height="3.5" fill="#3a86f0" fill-opacity="0.65" rx="1" stroke="none" stroke-width="0"/>
<rect x="2530.0" y="924.9" width="10.0" height="3.5" fill="#444" fill-opacity="0.45" rx="1" stroke="none" stroke-width="0"/>
<rect x="2548.0" y="924.9" width="9.6" height="3.5" fill="#444" fill-opacity="0.45" rx="1" stroke="none" stroke-width="0"/>
<rect x="2581.6" y="924.6" width="13.4" height="4.0" fill="#444" fill-opacity="0.4" rx="1" stroke="none" stroke-width="0"/>
<path d="M2364,935.8000000000001 L2608,935.8000000000001" stroke="#f3f4f6" stroke-width="1" fill="none"/>
<rect x="2367.4" y="943.0" width="32.6" height="4.0" fill="#444" fill-opacity="0.4" rx="1" stroke="none" stroke-width="0"/>
<rect x="2431.4" y="941.2" width="16.3" height="7.6" fill="#e6f0ff" fill-opacity="1" rx="0" stroke="none" stroke-width="0"/>
<rect x="2434.0" y="943.3" width="11.0" height="3.5" fill="#4a8ef0" fill-opacity="0.6" rx="1" stroke="none" stroke-width="0"/>
<rect x="2469.3" y="941.2" width="14.5" height="7.6" fill="#e6f7df" fill-opacity="1" rx="0" stroke="none" stroke-width="0"/>
<rect x="2471.5" y="943.3" width="10.0" height="3.5" fill="#50b040" fill-opacity="0.7" rx="1" stroke="none" stroke-width="0"/>
<circle cx="2509.3" cy="945.0" r="2.3" fill="#3a86f0"/>
<rect x="2513.0" y="943.3" width="9.0" height="3.5" fill="#3a86f0" fill-opacity="0.65" rx="1" stroke="none" stroke-width="0"/>
<rect x="2530.0" y="943.3" width="10.0" height="3.5" fill="#444" fill-opacity="0.45" rx="1" stroke="none" stroke-width="0"/>
<rect x="2548.0" y="943.3" width="9.6" height="3.5" fill="#444" fill-opacity="0.45" rx="1" stroke="none" stroke-width="0"/>
<rect x="2581.6" y="943.0" width="13.4" height="4.0" fill="#444" fill-opacity="0.4" rx="1" stroke="none" stroke-width="0"/>
<path d="M2364,954.23 L2608,954.23" stroke="#f3f4f6" stroke-width="1" fill="none"/>
<rect x="2367.4" y="961.5" width="37.2" height="4.0" fill="#444" fill-opacity="0.4" rx="1" stroke="none" stroke-width="0"/>
<rect x="2431.4" y="959.7" width="16.3" height="7.6" fill="#e6f0ff" fill-opacity="1" rx="0" stroke="none" stroke-width="0"/>
<rect x="2434.0" y="961.7" width="11.0" height="3.5" fill="#4a8ef0" fill-opacity="0.6" rx="1" stroke="none" stroke-width="0"/>
<rect x="2469.3" y="959.7" width="14.5" height="7.6" fill="#fff1e0" fill-opacity="1" rx="0" stroke="none" stroke-width="0"/>
<rect x="2471.5" y="961.7" width="10.0" height="3.5" fill="#f0a040" fill-opacity="0.7" rx="1" stroke="none" stroke-width="0"/>
<rect x="2513.0" y="961.7" width="9.0" height="3.5" fill="#555" fill-opacity="0.5" rx="1" stroke="none" stroke-width="0"/>
<rect x="2530.0" y="961.7" width="10.0" height="3.5" fill="#444" fill-opacity="0.55" rx="1" stroke="none" stroke-width="0"/>
<circle cx="2549.5" cy="963.5" r="2.3" fill="#3a86f0"/>
<rect x="2552.0" y="961.7" width="6.0" height="3.5" fill="#3a86f0" fill-opacity="0.65" rx="1" stroke="none" stroke-width="0"/>
<rect x="2576.4" y="961.2" width="24.6" height="4.5" fill="#333" fill-opacity="0.5" rx="1" stroke="none" stroke-width="0"/>
<path d="M2364,972.6600000000001 L2608,972.6600000000001" stroke="#f3f4f6" stroke-width="1" fill="none"/>
<rect x="2367.4" y="979.9" width="15.1" height="4.0" fill="#444" fill-opacity="0.4" rx="1" stroke="none" stroke-width="0"/>
<rect x="2431.4" y="978.1" width="16.3" height="7.6" fill="#e6f0ff" fill-opacity="1" rx="0" stroke="none" stroke-width="0"/>
<rect x="2434.0" y="980.1" width="11.0" height="3.5" fill="#4a8ef0" fill-opacity="0.6" rx="1" stroke="none" stroke-width="0"/>
<rect x="2469.3" y="978.1" width="14.5" height="7.6" fill="#e6f7df" fill-opacity="1" rx="0" stroke="none" stroke-width="0"/>
<rect x="2471.5" y="980.1" width="10.0" height="3.5" fill="#50b040" fill-opacity="0.7" rx="1" stroke="none" stroke-width="0"/>
<circle cx="2509.3" cy="981.9" r="2.3" fill="#3a86f0"/>
<rect x="2513.0" y="980.1" width="9.0" height="3.5" fill="#3a86f0" fill-opacity="0.65" rx="1" stroke="none" stroke-width="0"/>
<rect x="2530.0" y="980.1" width="10.0" height="3.5" fill="#444" fill-opacity="0.45" rx="1" stroke="none" stroke-width="0"/>
<rect x="2548.0" y="980.1" width="9.6" height="3.5" fill="#444" fill-opacity="0.45" rx="1" stroke="none" stroke-width="0"/>
<rect x="2581.6" y="979.9" width="13.4" height="4.0" fill="#444" fill-opacity="0.4" rx="1" stroke="none" stroke-width="0"/>
<path d="M2364,991.09 L2608,991.09" stroke="#f3f4f6" stroke-width="1" fill="none"/>
<rect x="2367.4" y="998.3" width="10.6" height="4.0" fill="#444" fill-opacity="0.4" rx="1" stroke="none" stroke-width="0"/>
<rect x="2431.4" y="996.5" width="16.3" height="7.6" fill="#e6f0ff" fill-opacity="1" rx="0" stroke="none" stroke-width="0"/>
<rect x="2434.0" y="998.6" width="11.0" height="3.5" fill="#4a8ef0" fill-opacity="0.6" rx="1" stroke="none" stroke-width="0"/>
<rect x="2469.3" y="996.5" width="14.5" height="7.6" fill="#e6f7df" fill-opacity="1" rx="0" stroke="none" stroke-width="0"/>
<rect x="2471.5" y="998.6" width="10.0" height="3.5" fill="#50b040" fill-opacity="0.7" rx="1" stroke="none" stroke-width="0"/>
<circle cx="2509.3" cy="1000.3" r="2.3" fill="#3a86f0"/>
<rect x="2513.0" y="998.6" width="9.0" height="3.5" fill="#3a86f0" fill-opacity="0.65" rx="1" stroke="none" stroke-width="0"/>
<rect x="2530.0" y="998.6" width="10.0" height="3.5" fill="#444" fill-opacity="0.45" rx="1" stroke="none" stroke-width="0"/>
<rect x="2548.0" y="998.6" width="9.6" height="3.5" fill="#444" fill-opacity="0.45" rx="1" stroke="none" stroke-width="0"/>
<rect x="2581.6" y="998.3" width="13.4" height="4.0" fill="#444" fill-opacity="0.4" rx="1" stroke="none" stroke-width="0"/>
<path d="M2364,1009.5200000000001 L2608,1009.5200000000001" stroke="#f3f4f6" stroke-width="1" fill="none"/>
<rect x="2367.4" y="1016.8" width="33.6" height="4.0" fill="#444" fill-opacity="0.4" rx="1" stroke="none" stroke-width="0"/>
<rect x="2431.4" y="1015.0" width="16.3" height="7.6" fill="#e6f0ff" fill-opacity="1" rx="0" stroke="none" stroke-width="0"/>
<rect x="2434.0" y="1017.0" width="11.0" height="3.5" fill="#4a8ef0" fill-opacity="0.6" rx="1" stroke="none" stroke-width="0"/>
<rect x="2469.3" y="1015.0" width="14.5" height="7.6" fill="#e6f7df" fill-opacity="1" rx="0" stroke="none" stroke-width="0"/>
<rect x="2471.5" y="1017.0" width="10.0" height="3.5" fill="#50b040" fill-opacity="0.7" rx="1" stroke="none" stroke-width="0"/>
<circle cx="2509.3" cy="1018.8" r="2.3" fill="#3a86f0"/>
<rect x="2513.0" y="1017.0" width="9.0" height="3.5" fill="#3a86f0" fill-opacity="0.65" rx="1" stroke="none" stroke-width="0"/>
<rect x="2530.0" y="1017.0" width="10.0" height="3.5" fill="#444" fill-opacity="0.45" rx="1" stroke="none" stroke-width="0"/>
<rect x="2548.0" y="1017.0" width="9.6" height="3.5" fill="#444" fill-opacity="0.45" rx="1" stroke="none" stroke-width="0"/>
<rect x="2581.6" y="1016.8" width="13.4" height="4.0" fill="#444" fill-opacity="0.4" rx="1" stroke="none" stroke-width="0"/>
<path d="M2364,1027.95 L2608,1027.95" stroke="#f3f4f6" stroke-width="1" fill="none"/>
<rect x="2367.4" y="1035.2" width="34.6" height="4.0" fill="#444" fill-opacity="0.4" rx="1" stroke="none" stroke-width="0"/>
<rect x="2431.4" y="1033.4" width="16.3" height="7.6" fill="#e6f0ff" fill-opacity="1" rx="0" stroke="none" stroke-width="0"/>
<rect x="2434.0" y="1035.4" width="11.0" height="3.5" fill="#4a8ef0" fill-opacity="0.6" rx="1" stroke="none" stroke-width="0"/>
<rect x="2469.3" y="1033.4" width="14.5" height="7.6" fill="#e6f7df" fill-opacity="1" rx="0" stroke="none" stroke-width="0"/>
<rect x="2471.5" y="1035.4" width="10.0" height="3.5" fill="#50b040" fill-opacity="0.7" rx="1" stroke="none" stroke-width="0"/>
<circle cx="2509.3" cy="1037.2" r="2.3" fill="#3a86f0"/>
<rect x="2513.0" y="1035.4" width="9.0" height="3.5" fill="#3a86f0" fill-opacity="0.65" rx="1" stroke="none" stroke-width="0"/>
<rect x="2530.0" y="1035.4" width="10.0" height="3.5" fill="#444" fill-opacity="0.45" rx="1" stroke="none" stroke-width="0"/>
<rect x="2548.0" y="1035.4" width="9.6" height="3.5" fill="#444" fill-opacity="0.45" rx="1" stroke="none" stroke-width="0"/>
<rect x="2581.6" y="1035.2" width="13.4" height="4.0" fill="#444" fill-opacity="0.4" rx="1" stroke="none" stroke-width="0"/>
<path d="M2364,1046.38 L2608,1046.38" stroke="#f3f4f6" stroke-width="1" fill="none"/>
<rect x="2367.4" y="1053.6" width="32.6" height="4.0" fill="#444" fill-opacity="0.4" rx="1" stroke="none" stroke-width="0"/>
<rect x="2431.4" y="1051.8" width="16.3" height="7.6" fill="#e6f0ff" fill-opacity="1" rx="0" stroke="none" stroke-width="0"/>
<rect x="2434.0" y="1053.9" width="11.0" height="3.5" fill="#4a8ef0" fill-opacity="0.6" rx="1" stroke="none" stroke-width="0"/>
<rect x="2469.3" y="1051.8" width="14.5" height="7.6" fill="#e6f7df" fill-opacity="1" rx="0" stroke="none" stroke-width="0"/>
<rect x="2471.5" y="1053.9" width="10.0" height="3.5" fill="#50b040" fill-opacity="0.7" rx="1" stroke="none" stroke-width="0"/>
<circle cx="2509.3" cy="1055.6" r="2.3" fill="#3a86f0"/>
<rect x="2513.0" y="1053.9" width="9.0" height="3.5" fill="#3a86f0" fill-opacity="0.65" rx="1" stroke="none" stroke-width="0"/>
<rect x="2530.0" y="1053.9" width="10.0" height="3.5" fill="#444" fill-opacity="0.45" rx="1" stroke="none" stroke-width="0"/>
<rect x="2548.0" y="1053.9" width="9.6" height="3.5" fill="#444" fill-opacity="0.45" rx="1" stroke="none" stroke-width="0"/>
<rect x="2581.6" y="1053.6" width="13.4" height="4.0" fill="#444" fill-opacity="0.4" rx="1" stroke="none" stroke-width="0"/>
<path d="M2364,1064.8100000000002 L2608,1064.8100000000002" stroke="#f3f4f6" stroke-width="1" fill="none"/>
<rect x="2367.4" y="1072.0" width="30.6" height="4.0" fill="#444" fill-opacity="0.4" rx="1" stroke="none" stroke-width="0"/>
<rect x="2431.4" y="1070.2" width="16.3" height="7.6" fill="#e6f0ff" fill-opacity="1" rx="0" stroke="none" stroke-width="0"/>
<rect x="2434.0" y="1072.3" width="11.0" height="3.5" fill="#4a8ef0" fill-opacity="0.6" rx="1" stroke="none" stroke-width="0"/>
<rect x="2469.3" y="1070.2" width="14.5" height="7.6" fill="#e6f7df" fill-opacity="1" rx="0" stroke="none" stroke-width="0"/>
<rect x="2471.5" y="1072.3" width="10.0" height="3.5" fill="#50b040" fill-opacity="0.7" rx="1" stroke="none" stroke-width="0"/>
<circle cx="2509.3" cy="1074.0" r="2.3" fill="#3a86f0"/>
<rect x="2513.0" y="1072.3" width="9.0" height="3.5" fill="#3a86f0" fill-opacity="0.65" rx="1" stroke="none" stroke-width="0"/>
<rect x="2530.0" y="1072.3" width="10.0" height="3.5" fill="#444" fill-opacity="0.45" rx="1" stroke="none" stroke-width="0"/>
<rect x="2548.0" y="1072.3" width="9.6" height="3.5" fill="#444" fill-opacity="0.45" rx="1" stroke="none" stroke-width="0"/>
<rect x="2581.6" y="1072.0" width="13.4" height="4.0" fill="#444" fill-opacity="0.4" rx="1" stroke="none" stroke-width="0"/>
<path d="M2364,1083.24 L2608,1083.24" stroke="#f3f4f6" stroke-width="1" fill="none"/>
<rect x="2367.4" y="1090.5" width="20.6" height="4.0" fill="#444" fill-opacity="0.4" rx="1" stroke="none" stroke-width="0"/>
<rect x="2431.4" y="1088.7" width="16.3" height="7.6" fill="#e6f0ff" fill-opacity="1" rx="0" stroke="none" stroke-width="0"/>
<rect x="2434.0" y="1090.7" width="11.0" height="3.5" fill="#4a8ef0" fill-opacity="0.6" rx="1" stroke="none" stroke-width="0"/>
<rect x="2469.3" y="1088.7" width="14.5" height="7.6" fill="#e6f7df" fill-opacity="1" rx="0" stroke="none" stroke-width="0"/>
<rect x="2471.5" y="1090.7" width="10.0" height="3.5" fill="#50b040" fill-opacity="0.7" rx="1" stroke="none" stroke-width="0"/>
<circle cx="2509.3" cy="1092.5" r="2.3" fill="#3a86f0"/>
<rect x="2513.0" y="1090.7" width="9.0" height="3.5" fill="#3a86f0" fill-opacity="0.65" rx="1" stroke="none" stroke-width="0"/>
<rect x="2530.0" y="1090.7" width="10.0" height="3.5" fill="#444" fill-opacity="0.45" rx="1" stroke="none" stroke-width="0"/>
<rect x="2548.0" y="1090.7" width="9.6" height="3.5" fill="#444" fill-opacity="0.45" rx="1" stroke="none" stroke-width="0"/>
<rect x="2581.6" y="1090.5" width="13.4" height="4.0" fill="#444" fill-opacity="0.4" rx="1" stroke="none" stroke-width="0"/>
<path d="M2364,1101.67 L2608,1101.67" stroke="#f3f4f6" stroke-width="1" fill="none"/>
<rect x="2367.4" y="1108.9" width="4.6" height="4.0" fill="#444" fill-opacity="0.4" rx="1" stroke="none" stroke-width="0"/>
<rect x="2431.4" y="1107.1" width="16.3" height="7.6" fill="#e6f0ff" fill-opacity="1" rx="0" stroke="none" stroke-width="0"/>
<rect x="2434.0" y="1109.2" width="11.0" height="3.5" fill="#4a8ef0" fill-opacity="0.6" rx="1" stroke="none" stroke-width="0"/>
<rect x="2469.3" y="1107.1" width="14.5" height="7.6" fill="#e6f7df" fill-opacity="1" rx="0" stroke="none" stroke-width="0"/>
<rect x="2471.5" y="1109.2" width="10.0" height="3.5" fill="#50b040" fill-opacity="0.7" rx="1" stroke="none" stroke-width="0"/>
<circle cx="2509.3" cy="1110.9" r="2.3" fill="#3a86f0"/>
<rect x="2513.0" y="1109.2" width="9.0" height="3.5" fill="#3a86f0" fill-opacity="0.65" rx="1" stroke="none" stroke-width="0"/>
<rect x="2530.0" y="1109.2" width="10.0" height="3.5" fill="#444" fill-opacity="0.45" rx="1" stroke="none" stroke-width="0"/>
<rect x="2548.0" y="1109.2" width="9.6" height="3.5" fill="#444" fill-opacity="0.45" rx="1" stroke="none" stroke-width="0"/>
<rect x="2581.6" y="1108.9" width="13.4" height="4.0" fill="#444" fill-opacity="0.4" rx="1" stroke="none" stroke-width="0"/>
<path d="M2364,1120.1000000000001 L2608,1120.1000000000001" stroke="#f3f4f6" stroke-width="1" fill="none"/>
<rect x="2367.4" y="1127.3" width="36.6" height="4.0" fill="#444" fill-opacity="0.4" rx="1" stroke="none" stroke-width="0"/>
<rect x="2431.4" y="1125.5" width="16.3" height="7.6" fill="#e6f0ff" fill-opacity="1" rx="0" stroke="none" stroke-width="0"/>
<rect x="2434.0" y="1127.6" width="11.0" height="3.5" fill="#4a8ef0" fill-opacity="0.6" rx="1" stroke="none" stroke-width="0"/>
<rect x="2469.3" y="1125.5" width="14.5" height="7.6" fill="#e6f7df" fill-opacity="1" rx="0" stroke="none" stroke-width="0"/>
<rect x="2471.5" y="1127.6" width="10.0" height="3.5" fill="#50b040" fill-opacity="0.7" rx="1" stroke="none" stroke-width="0"/>
<circle cx="2509.3" cy="1129.3" r="2.3" fill="#3a86f0"/>
<rect x="2513.0" y="1127.6" width="9.0" height="3.5" fill="#3a86f0" fill-opacity="0.65" rx="1" stroke="none" stroke-width="0"/>
<rect x="2530.0" y="1127.6" width="10.0" height="3.5" fill="#444" fill-opacity="0.45" rx="1" stroke="none" stroke-width="0"/>
<rect x="2548.0" y="1127.6" width="9.6" height="3.5" fill="#444" fill-opacity="0.45" rx="1" stroke="none" stroke-width="0"/>
<rect x="2581.6" y="1127.3" width="13.4" height="4.0" fill="#444" fill-opacity="0.4" rx="1" stroke="none" stroke-width="0"/>
<path d="M2364,1138.53 L2608,1138.53" stroke="#f3f4f6" stroke-width="1" fill="none"/>
<rect x="2367.4" y="1145.8" width="32.6" height="4.0" fill="#444" fill-opacity="0.4" rx="1" stroke="none" stroke-width="0"/>
<rect x="2431.4" y="1144.0" width="16.3" height="7.6" fill="#e6f0ff" fill-opacity="1" rx="0" stroke="none" stroke-width="0"/>
<rect x="2434.0" y="1146.0" width="11.0" height="3.5" fill="#4a8ef0" fill-opacity="0.6" rx="1" stroke="none" stroke-width="0"/>
<rect x="2469.3" y="1144.0" width="14.5" height="7.6" fill="#e6f7df" fill-opacity="1" rx="0" stroke="none" stroke-width="0"/>
<rect x="2471.5" y="1146.0" width="10.0" height="3.5" fill="#50b040" fill-opacity="0.7" rx="1" stroke="none" stroke-width="0"/>
<circle cx="2509.3" cy="1147.8" r="2.3" fill="#3a86f0"/>
<rect x="2513.0" y="1146.0" width="9.0" height="3.5" fill="#3a86f0" fill-opacity="0.65" rx="1" stroke="none" stroke-width="0"/>
<rect x="2530.0" y="1146.0" width="10.0" height="3.5" fill="#444" fill-opacity="0.45" rx="1" stroke="none" stroke-width="0"/>
<rect x="2548.0" y="1146.0" width="9.6" height="3.5" fill="#444" fill-opacity="0.45" rx="1" stroke="none" stroke-width="0"/>
<rect x="2581.6" y="1145.8" width="13.4" height="4.0" fill="#444" fill-opacity="0.4" rx="1" stroke="none" stroke-width="0"/>
<path d="M2364,1156.96 L2608,1156.96" stroke="#f3f4f6" stroke-width="1" fill="none"/>
<rect x="2367.4" y="1164.2" width="18.6" height="4.0" fill="#444" fill-opacity="0.4" rx="1" stroke="none" stroke-width="0"/>
<rect x="2431.4" y="1162.4" width="16.3" height="7.6" fill="#e6f0ff" fill-opacity="1" rx="0" stroke="none" stroke-width="0"/>
<rect x="2434.0" y="1164.4" width="11.0" height="3.5" fill="#4a8ef0" fill-opacity="0.6" rx="1" stroke="none" stroke-width="0"/>
<rect x="2469.3" y="1162.4" width="14.5" height="7.6" fill="#e6f7df" fill-opacity="1" rx="0" stroke="none" stroke-width="0"/>
<rect x="2471.5" y="1164.4" width="10.0" height="3.5" fill="#50b040" fill-opacity="0.7" rx="1" stroke="none" stroke-width="0"/>
<circle cx="2509.3" cy="1166.2" r="2.3" fill="#3a86f0"/>
<rect x="2513.0" y="1164.4" width="9.0" height="3.5" fill="#3a86f0" fill-opacity="0.65" rx="1" stroke="none" stroke-width="0"/>
<rect x="2530.0" y="1164.4" width="10.0" height="3.5" fill="#444" fill-opacity="0.45" rx="1" stroke="none" stroke-width="0"/>
<rect x="2548.0" y="1164.4" width="9.6" height="3.5" fill="#444" fill-opacity="0.45" rx="1" stroke="none" stroke-width="0"/>
<rect x="2581.6" y="1164.2" width="13.4" height="4.0" fill="#444" fill-opacity="0.4" rx="1" stroke="none" stroke-width="0"/>
<path d="M2364,1175.39 L2608,1175.39" stroke="#f3f4f6" stroke-width="1" fill="none"/>
<rect x="2367.4" y="1182.6" width="25.6" height="4.0" fill="#444" fill-opacity="0.4" rx="1" stroke="none" stroke-width="0"/>
<rect x="2431.4" y="1180.8" width="16.3" height="7.6" fill="#e6f0ff" fill-opacity="1" rx="0" stroke="none" stroke-width="0"/>
<rect x="2434.0" y="1182.9" width="11.0" height="3.5" fill="#4a8ef0" fill-opacity="0.6" rx="1" stroke="none" stroke-width="0"/>
<rect x="2469.3" y="1180.8" width="14.5" height="7.6" fill="#e6f7df" fill-opacity="1" rx="0" stroke="none" stroke-width="0"/>
<rect x="2471.5" y="1182.9" width="10.0" height="3.5" fill="#50b040" fill-opacity="0.7" rx="1" stroke="none" stroke-width="0"/>
<circle cx="2509.3" cy="1184.6" r="2.3" fill="#3a86f0"/>
<rect x="2513.0" y="1182.9" width="9.0" height="3.5" fill="#3a86f0" fill-opacity="0.65" rx="1" stroke="none" stroke-width="0"/>
<rect x="2530.0" y="1182.9" width="10.0" height="3.5" fill="#444" fill-opacity="0.45" rx="1" stroke="none" stroke-width="0"/>
<rect x="2548.0" y="1182.9" width="9.6" height="3.5" fill="#444" fill-opacity="0.45" rx="1" stroke="none" stroke-width="0"/>
<rect x="2581.6" y="1182.6" width="13.4" height="4.0" fill="#444" fill-opacity="0.4" rx="1" stroke="none" stroke-width="0"/>
<path d="M2364,1193.82 L2608,1193.82" stroke="#f3f4f6" stroke-width="1" fill="none"/>
<rect x="2367.4" y="1201.0" width="31.6" height="4.0" fill="#444" fill-opacity="0.4" rx="1" stroke="none" stroke-width="0"/>
<rect x="2431.4" y="1199.2" width="16.3" height="7.6" fill="#e6f0ff" fill-opacity="1" rx="0" stroke="none" stroke-width="0"/>
<rect x="2434.0" y="1201.3" width="11.0" height="3.5" fill="#4a8ef0" fill-opacity="0.6" rx="1" stroke="none" stroke-width="0"/>
<rect x="2469.3" y="1199.2" width="14.5" height="7.6" fill="#e6f7df" fill-opacity="1" rx="0" stroke="none" stroke-width="0"/>
<rect x="2471.5" y="1201.3" width="10.0" height="3.5" fill="#50b040" fill-opacity="0.7" rx="1" stroke="none" stroke-width="0"/>
<circle cx="2509.3" cy="1203.0" r="2.3" fill="#3a86f0"/>
<rect x="2513.0" y="1201.3" width="9.0" height="3.5" fill="#3a86f0" fill-opacity="0.65" rx="1" stroke="none" stroke-width="0"/>
<rect x="2530.0" y="1201.3" width="10.0" height="3.5" fill="#444" fill-opacity="0.45" rx="1" stroke="none" stroke-width="0"/>
<rect x="2548.0" y="1201.3" width="9.6" height="3.5" fill="#444" fill-opacity="0.45" rx="1" stroke="none" stroke-width="0"/>
<rect x="2581.6" y="1201.0" width="13.4" height="4.0" fill="#444" fill-opacity="0.4" rx="1" stroke="none" stroke-width="0"/>
</g>
<rect x="2532.0" y="234.7" width="291.0" height="71.6" fill="#fff" stroke="#000" stroke-width="3" />
<rect x="2532.0" y="333.1" width="291.0" height="71.9" fill="#fff" stroke="#000" stroke-width="3" />
<rect x="2537.3" y="419.7" width="291.2" height="71.1" fill="#fff" stroke="#000" stroke-width="3" />
<polygon points="2373.8,372.0 2423.3,331.0 2423.3,358.6 2503.4,358.6 2503.4,385.2 2423.3,385.2 2423.3,413.5" fill="#fff" stroke="#000" stroke-width="2.6"/>
<path d="M2713.0,823.5 C2653.4,823.5 2638.5,862.9 2686.2,870.8 C2638.5,878.7 2692.1,925.9 2730.9,910.2 C2757.7,941.7 2847.0,941.7 2876.8,910.2 C2936.3,910.2 2936.3,878.7 2899.1,862.9 C2936.3,831.4 2876.8,799.9 2824.7,815.7 C2787.4,792.0 2727.9,792.0 2713.0,823.5 Z" fill="#fff" stroke="#555" stroke-width="3"/>
</svg>
<div class="t" style="left:46.0px;top:72.0px;width:800px;font-size:33px;line-height:33px;color:#fff;letter-spacing:2.05px;-webkit-text-stroke:0.1px #fff;">Step1</div>
<div class="t" style="left:1066.0px;top:72.0px;width:800px;font-size:33px;line-height:33px;color:#fff;letter-spacing:2.05px;-webkit-text-stroke:0.1px #fff;">Step2</div>
<div class="t" style="left:1843.0px;top:72.0px;width:800px;font-size:33px;line-height:33px;color:#fff;letter-spacing:2.05px;-webkit-text-stroke:0.1px #fff;">Step3</div>
<div class="t" style="left:272.0px;top:67.0px;width:800px;font-size:44px;line-height:44px;color:#000;letter-spacing:0px;">核心场景组合</div>
<div class="t" style="left:1233.5px;top:67.0px;width:800px;font-size:44px;line-height:44px;color:#000;letter-spacing:0px;">一键触发</div>
<div class="t" style="left:2117.0px;top:67.0px;width:800px;font-size:44px;line-height:44px;color:#000;letter-spacing:0px;">结果校验</div>
<div class="t" style="left:-304.0px;top:278.0px;width:800px;font-size:44px;line-height:44px;color:#000;letter-spacing:0px;">页面</div>
<div class="t" style="left:-304.0px;top:495.0px;width:800px;font-size:44px;line-height:44px;color:#000;letter-spacing:0px;">站点</div>
<div class="t" style="left:-304.0px;top:744.0px;width:800px;font-size:44px;line-height:44px;color:#000;letter-spacing:0px;">语言</div>
<div class="t" style="left:-309.0px;top:1006.0px;width:800px;font-size:44px;line-height:44px;color:#000;letter-spacing:0px;">币种</div>
<div class="t" style="left:-303.5px;top:1197.0px;width:800px;font-size:44px;line-height:44px;color:#000;letter-spacing:0px;">时区</div>
<div class="t" style="left:14.2px;top:236.0px;width:800px;font-size:31px;line-height:31px;color:#000;letter-spacing:0px;">首页</div>
<div class="t" style="left:200.1px;top:236.0px;width:800px;font-size:31px;line-height:31px;color:#000;letter-spacing:0px;">搜推</div>
<div class="t" style="left:380.6px;top:236.2px;width:800px;font-size:31px;line-height:31px;color:#000;letter-spacing:0px;">黄流</div>
<div class="t" style="left:567.2px;top:236.0px;width:800px;font-size:31px;line-height:31px;color:#000;letter-spacing:0px;">消息</div>
<div class="t" style="left:8.8px;top:325.0px;width:800px;font-size:31px;line-height:31px;color:#000;letter-spacing:0px;">我京</div>
<div class="t" style="left:200.0px;top:325.0px;width:800px;font-size:31px;line-height:31px;color:#000;letter-spacing:0px;">分类</div>
<div class="t" style="left:380.8px;top:325.8px;width:800px;font-size:31px;line-height:31px;color:#000;letter-spacing:0px;">频道</div>
<div class="t" style="left:567.0px;top:324.9px;width:800px;font-size:31px;line-height:31px;color:#000;letter-spacing:0px;">客服</div>
<div class="t" style="left:20.5px;top:423.1px;width:800px;font-size:31px;line-height:31px;color:#000;letter-spacing:0px;">港澳</div>
<div class="t" style="left:20.4px;top:500.5px;width:800px;font-size:31px;line-height:31px;color:#000;letter-spacing:0px;">美国</div>
<div class="t" style="left:22.1px;top:585.2px;width:800px;font-size:31px;line-height:31px;color:#000;letter-spacing:0px;">柬埔寨</div>
<div class="t" style="left:182.9px;top:425.5px;width:800px;font-size:31px;line-height:31px;color:#000;letter-spacing:0px;">台湾</div>
<div class="t" style="left:182.8px;top:503.0px;width:800px;font-size:31px;line-height:31px;color:#000;letter-spacing:0px;">日本</div>
<div class="t" style="left:186.9px;top:586.2px;width:800px;font-size:31px;line-height:31px;color:#000;letter-spacing:0px;">韩国</div>
<div class="t" style="left:338.8px;top:425.5px;width:800px;font-size:31px;line-height:31px;color:#000;letter-spacing:0px;">新加坡</div>
<div class="t" style="left:334.7px;top:508.2px;width:800px;font-size:31px;line-height:31px;color:#000;letter-spacing:0px;">越南</div>
<div class="t" style="left:500.8px;top:428.7px;width:800px;font-size:31px;line-height:31px;color:#000;letter-spacing:0px;">澳大利亚</div>
<div class="t" style="left:500.8px;top:503.2px;width:800px;font-size:31px;line-height:31px;color:#000;letter-spacing:0px;">马来西亚</div>
<div class="t" style="left:665.8px;top:428.6px;width:800px;font-size:31px;line-height:31px;color:#000;letter-spacing:0px;">海外</div>
<div class="t" style="left:665.8px;top:508.5px;width:800px;font-size:31px;line-height:31px;color:#000;letter-spacing:0px;">大陆</div>
<div class="t" style="left:103.8px;top:747.9px;width:800px;font-size:31px;line-height:31px;color:#000;letter-spacing:0px;">繁体</div>
<div class="t" style="left:524.6px;top:751.5px;width:800px;font-size:31px;line-height:31px;color:#000;letter-spacing:0px;">英文</div>
<div class="t" style="left:46.9px;top:962.2px;width:800px;font-size:31px;line-height:31px;color:#000;letter-spacing:0px;">新币</div>
<div class="t" style="left:219.0px;top:962.0px;width:800px;font-size:31px;line-height:31px;color:#000;letter-spacing:0px;">港币</div>
<div class="t" style="left:411.1px;top:962.0px;width:800px;font-size:31px;line-height:31px;color:#000;letter-spacing:0px;">台币</div>
<div class="t" style="left:570.5px;top:963.2px;width:800px;font-size:33px;line-height:33px;color:#000;letter-spacing:0px;-webkit-text-stroke:0;">AED</div>
<div class="t" style="left:56.4px;top:1052.6px;width:800px;font-size:33px;line-height:33px;color:#000;letter-spacing:0px;-webkit-text-stroke:0;">VND</div>
<div class="t" style="left:223.1px;top:1052.5px;width:800px;font-size:33px;line-height:33px;color:#000;letter-spacing:0px;-webkit-text-stroke:0;">KRW</div>
<div class="t" style="left:382.3px;top:1052.5px;width:800px;font-size:33px;line-height:33px;color:#000;letter-spacing:0px;-webkit-text-stroke:0;">JPY</div>
<div class="t" style="left:564.7px;top:1052.6px;width:800px;font-size:33px;line-height:33px;color:#000;letter-spacing:0px;-webkit-text-stroke:0;">USD</div>
<div class="t" style="left:35.5px;top:1202.8px;width:800px;font-size:33px;line-height:33px;color:#000;letter-spacing:1.5px;-webkit-text-stroke:0;">UTC+8</div>
<div class="t" style="left:224.4px;top:1202.8px;width:800px;font-size:33px;line-height:33px;color:#000;letter-spacing:1.5px;-webkit-text-stroke:0;">UTC+7</div>
<div class="t" style="left:410.4px;top:1202.8px;width:800px;font-size:33px;line-height:33px;color:#000;letter-spacing:1.5px;-webkit-text-stroke:0;">UTC+9</div>
<div class="t" style="left:596.8px;top:1202.8px;width:800px;font-size:33px;line-height:33px;color:#000;letter-spacing:1.5px;-webkit-text-stroke:0;">UTC+4</div>
<div class="t" style="left:1009.0px;top:426.0px;width:800px;font-size:32px;line-height:32px;color:#000;letter-spacing:0px;">回归测试虚拟小组</div>
<div class="t" style="left:1009.0px;top:734.5px;width:800px;font-size:32px;line-height:32px;color:#000;letter-spacing:0px;">模块负责人</div>
<div class="t" style="left:1005.0px;top:1077.0px;width:800px;font-size:32px;line-height:32px;color:#000;letter-spacing:0px;">产品&amp;运营</div>
<div class="t" style="left:1314.0px;top:302.0px;width:800px;font-size:34px;line-height:34px;color:#000;letter-spacing:0px;">嵌入APP发版回归阶</div>
<div class="t" style="left:1314.0px;top:346.0px;width:800px;font-size:34px;line-height:34px;color:#000;letter-spacing:0px;">段</div>
<div class="t" style="left:1313.5px;top:616.0px;width:800px;font-size:34px;line-height:34px;color:#000;letter-spacing:0px;">单模块定时巡检</div>
<div class="t" style="left:1313.5px;top:658.5px;width:800px;font-size:34px;line-height:34px;color:#000;letter-spacing:0px;">(规划)</div>
<div class="t" style="left:1322.0px;top:1000.0px;width:800px;font-size:34px;line-height:34px;color:#000;letter-spacing:0px;">单页面语言环境执行</div>
<div class="t" style="left:2277.5px;top:254.1px;width:800px;font-size:31.8px;line-height:31.8px;color:#000;letter-spacing:0px;">自动化语种校验</div>
<div class="t" style="left:2276.5px;top:351.2px;width:800px;font-size:31.5px;line-height:31.5px;color:#000;letter-spacing:0px;">大模型翻译质量校验</div>
<div class="t" style="left:2281.7px;top:439.3px;width:800px;font-size:32px;line-height:32px;color:#000;letter-spacing:0px;">人工校验</div>
<div class="t" style="left:1844.0px;top:325.5px;width:800px;font-size:39px;line-height:39px;color:#000;letter-spacing:0px;">测试报告</div>
<div class="t" style="left:1844.5px;top:373.5px;width:800px;font-size:39px;line-height:39px;color:#000;letter-spacing:0px;-webkit-text-stroke:0.1px #000;">Bugfix</div>
<div class="t" style="left:2385.3px;top:846.7px;width:800px;font-size:31.6px;line-height:31.6px;color:#000;letter-spacing:0px;">赛博自动化平台</div>
<div class="t" style="left:2386.8px;top:1310.5px;width:800px;font-size:24.5px;line-height:24.5px;color:#f0f0f0;letter-spacing:0px;text-shadow:1px 1px 1px #555, 0 0 1px #777;">掘金技术社区 @ 京东云开发者</div>
<div class="t" style="left:2426px;top:501.9px;text-align:left;font-size:15px;line-height:15px;color:#ea3a44;font-weight:bold;letter-spacing:0px;filter:blur(0.3px);-webkit-text-stroke:0.15px #ea3a44">3. 在报告顶部需要展</div>
<div class="t" style="left:2426px;top:519.7px;text-align:left;font-size:15px;line-height:15px;color:#ea3a44;font-weight:bold;letter-spacing:0px;filter:blur(0.3px);-webkit-text-stroke:0.15px #ea3a44">示：语言、站点、货</div>
<div class="t" style="left:2426px;top:537.5px;text-align:left;font-size:15px;line-height:15px;color:#ea3a44;font-weight:bold;letter-spacing:0px;filter:blur(0.3px);-webkit-text-stroke:0.15px #ea3a44">币、时区，信息</div>
<div class="t" style="left:2488px;top:731.0px;text-align:left;font-size:12px;line-height:12px;color:#ea3a44;font-weight:bold;letter-spacing:0px;filter:blur(0.3px);-webkit-text-stroke:0.15px #ea3a44">2. 英文字符错误建议：</div>
<div class="t" style="left:2488px;top:745.0px;text-align:left;font-size:12px;line-height:12px;color:#ea3a44;font-weight:bold;letter-spacing:0px;filter:blur(0.3px);-webkit-text-stroke:0.15px #ea3a44">可以嵌入到语言 Tab 中</div>
<div class="t" style="left:2502.5px;top:813.9px;text-align:left;font-size:12px;line-height:12px;color:#ea3a44;font-weight:bold;letter-spacing:0px;filter:blur(0.3px);-webkit-text-stroke:0.15px #ea3a44">1. 将语言、货币、时间表</div>
<div class="t" style="left:2502.5px;top:827.2px;text-align:left;font-size:12px;line-height:12px;color:#ea3a44;font-weight:bold;letter-spacing:0px;filter:blur(0.3px);-webkit-text-stroke:0.15px #ea3a44">达，分成 3 个 tab 过滤出</div>
<div class="t" style="left:2502.5px;top:840.8px;text-align:left;font-size:12px;line-height:12px;color:#ea3a44;font-weight:bold;letter-spacing:0px;filter:blur(0.3px);-webkit-text-stroke:0.15px #ea3a44">来。</div>
<div class="t" style="left:1974.0px;top:878.8px;width:800px;font-size:12.5px;line-height:12.5px;color:#ea3a44;letter-spacing:0px;font-weight:bold;">语言</div>
<div class="t" style="left:2035.0px;top:878.8px;width:800px;font-size:12.5px;line-height:12.5px;color:#ea3a44;letter-spacing:0px;font-weight:bold;">货币</div>
<div class="t" style="left:2100.0px;top:878.8px;width:800px;font-size:12.5px;line-height:12.5px;color:#ea3a44;letter-spacing:0px;font-weight:bold;">时间表达</div>
<div class="wm" style="left:-11px;top:59px">lixiaolei54</div>
<div class="wm" style="left:552px;top:59px">lixiaolei54</div>
<div class="wm" style="left:1114px;top:59px">lixiaolei54</div>
<div class="wm" style="left:1677px;top:59px">lixiaolei54</div>
<div class="wm" style="left:2239px;top:59px">lixiaolei54</div>
<div class="wm" style="left:2802px;top:59px">lixiaolei54</div>
<div class="wm" style="left:-11px;top:619px">lixiaolei54</div>
<div class="wm" style="left:552px;top:619px">lixiaolei54</div>
<div class="wm" style="left:1114px;top:619px">lixiaolei54</div>
<div class="wm" style="left:1677px;top:619px">lixiaolei54</div>
<div class="wm" style="left:2239px;top:619px">lixiaolei54</div>
<div class="wm" style="left:2802px;top:619px">lixiaolei54</div>
<div class="wm" style="left:-11px;top:1183px">lixiaolei54</div>
<div class="wm" style="left:552px;top:1183px">lixiaolei54</div>
<div class="wm" style="left:1114px;top:1183px">lixiaolei54</div>
<div class="wm" style="left:1677px;top:1183px">lixiaolei54</div>
<div class="wm" style="left:2239px;top:1183px">lixiaolei54</div>
<div class="wm" style="left:2802px;top:1183px">lixiaolei54</div>
</body></html>
